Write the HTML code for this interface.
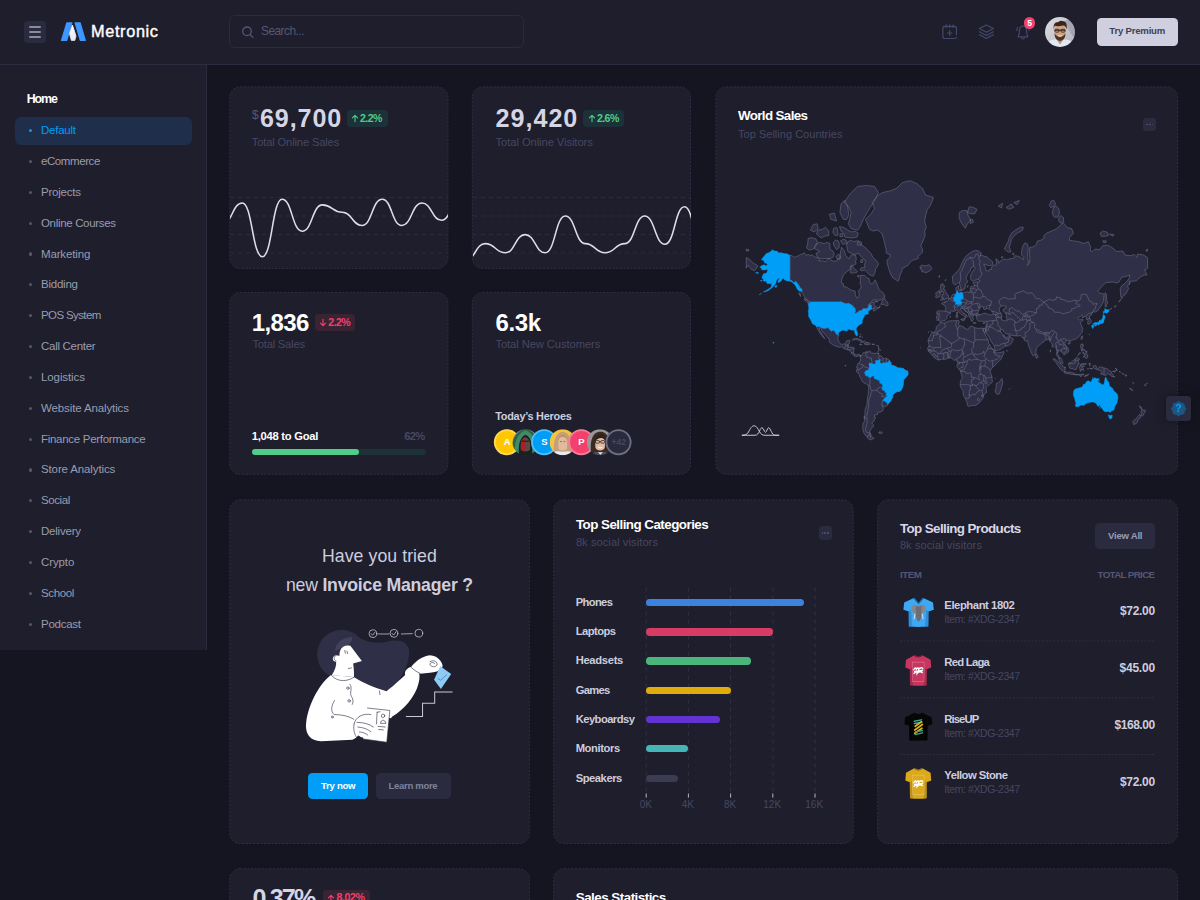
<!DOCTYPE html>
<html lang="en"><head><meta charset="utf-8"><title>Metronic Dashboard</title>
<style>
*{box-sizing:border-box;margin:0;padding:0}
html,body{width:1200px;height:900px;overflow:hidden;background:#151521;font-family:"Liberation Sans", sans-serif;}
body{position:relative}
div,svg{position:absolute}
svg{overflow:visible}
.t{white-space:nowrap}
.card{background:#1e1e2d;border:1px dashed #2f2f46;border-radius:10px}
b{font-weight:700}
</style></head>
<body>
<div style="left:0px;top:65px;width:207px;height:585px;background:#1e1e2d;border-right:1px solid #2b2b40;"></div>
<div style="left:0px;top:0px;width:1200px;height:65px;background:#1e1e2d;border-bottom:1px solid #2b2b40;"></div>
<div style="left:24px;top:21px;width:22px;height:22px;background:#2b2b40;border-radius:4px;"></div>
<div style="left:28.75px;top:26px;width:12.5px;height:1.5px;background:#8b8b9e;border-radius:1px;"></div>
<div style="left:28.75px;top:31px;width:12.5px;height:1.5px;background:#8b8b9e;border-radius:1px;"></div>
<div style="left:28.75px;top:36px;width:12.5px;height:1.5px;background:#8b8b9e;border-radius:1px;"></div>
<svg style="left:0;top:0" width="120" height="64" viewBox="0 0 120 64">
<defs><linearGradient id="lg" x1="0" y1="0" x2="0" y2="1"><stop offset="0" stop-color="#ffffff"/><stop offset="1" stop-color="#e9e9ee"/></linearGradient></defs>
<g stroke-linejoin="round" stroke-width="1.2">
<path d="M61.5 40.4 L66.8 22.9 L71.9 22.9 L66.8 40.4 Z" fill="#3e97ff" stroke="#3e97ff"/>
<path d="M75.1 22.9 L80.2 22.9 L85.3 40.4 L80.3 40.4 Z" fill="#3e97ff" stroke="#3e97ff"/>
<path d="M72.45 25 L69.5 33.5 L71.3 40.4 L74.8 40.4 L76 36 Z" fill="url(#lg)" stroke="url(#lg)" stroke-width="0.8"/>
</g></svg>
<div class="t" style="top:21.16px;font-size:16.3px;line-height:21.19px;color:#fff;letter-spacing:0.652px;left:91px;-webkit-text-stroke:0.4px #fff;">Metronic</div>
<div style="left:229px;top:15px;width:295px;height:33px;border-radius:6px;border:1px solid #2b2b40;"></div>
<svg style="left:240px;top:24px" width="16" height="16" viewBox="0 0 16 16"><circle cx="7" cy="7.3" r="4.3" fill="none" stroke="#565674" stroke-width="1.3"/><path d="M10.2 10.6 L13 13.4" stroke="#565674" stroke-width="1.3" stroke-linecap="round"/></svg>
<div class="t" style="top:23.89px;font-size:11.9px;line-height:15.47px;color:#565674;letter-spacing:-0.512px;left:261px;">Search...</div>
<svg style="left:941px;top:23px" width="18" height="18" viewBox="0 0 18 18" fill="none" stroke="#454a6d" stroke-width="1.15" stroke-linecap="round" stroke-linejoin="round">
<path d="M15.4 11.5 V5.4 Q15.4 3.3 13.3 3.3 H4 Q1.9 3.3 1.9 5.4 V13.4 Q1.9 15.5 4 15.5 H13.3 Q15.4 15.5 15.4 14"/>
<path d="M5.2 1.9 V4.4 M8.65 1.9 V4.4 M12.1 1.9 V4.4"/><path d="M8.65 7.6 V12.4 M6.3 10 H11"/></svg>
<svg style="left:977px;top:23px" width="18" height="18" viewBox="0 0 18 18" fill="none" stroke="#454a6d" stroke-width="1.15" stroke-linecap="round" stroke-linejoin="round">
<path d="M9.4 2 L16.3 5.6 L9.4 9.3 L2.4 5.6 Z"/><path d="M2.4 8.7 L9.4 12.4 L16.3 8.7"/><path d="M2.4 11.7 L9.4 15.4 L16.3 11.7"/></svg>
<svg style="left:1014px;top:23px" width="18" height="18" viewBox="0 0 18 18" fill="none" stroke="#454a6d" stroke-width="1.15" stroke-linecap="round" stroke-linejoin="round">
<path d="M4.4 12.9 Q5.4 11.2 5.4 8.2 Q5.4 3 9 3 Q12.6 3 12.6 8.2 Q12.6 11.2 13.6 12.9 Q14.2 13.9 13 13.9 H5 Q3.8 13.9 4.4 12.9 Z"/>
<path d="M7.6 15.4 Q9 16.4 10.4 15.4"/><path d="M3.6 4.2 Q2.6 5.8 2.9 7.6 M14.4 4.2 Q15.4 5.8 15.1 7.6"/></svg>
<div style="left:1023.9px;top:17.4px;width:11.4px;height:11.4px;background:#f1416c;border-radius:6px;"></div>
<div class="t" style="top:18.03px;font-size:8.6px;line-height:11.18px;color:#fff;font-weight:700;left:829.60px;width:400px;text-align:center;">5</div>
<svg style="left:1045px;top:17px" width="30" height="30" viewBox="0 0 30 30"><defs><clipPath id="avc"><circle cx="15" cy="15" r="15"/></clipPath>
<linearGradient id="avbg" x1="0" y1="0" x2="1" y2="1"><stop offset="0" stop-color="#dcdce2"/><stop offset="1" stop-color="#b4b4be"/></linearGradient>
<filter id="avb" x="-10%" y="-10%" width="120%" height="120%"><feGaussianBlur stdDeviation="0.45"/></filter></defs>
<g clip-path="url(#avc)"><g filter="url(#avb)"><rect width="30" height="30" fill="url(#avbg)"/>
<path d="M19 4 L30 22 L30 0 Z" fill="#a6a6b2"/><path d="M21 9 L28 19" stroke="#8e8e9a" stroke-width="0.5"/>
<path d="M0 30 Q3 22 10 22.5 L20 22.5 Q27 22 30 30 Z" fill="#e3e8f4"/>
<path d="M10.5 21 L15 27.5 L19.5 21 Z" fill="#c39878"/>
<ellipse cx="15" cy="14" rx="5.9" ry="7.4" fill="#d0a282"/>
<path d="M9.4 16.5 Q10 23.5 15 24 Q20 23.5 20.6 16.5 Q18 20 15 20 Q12 20 9.4 16.5 Z" fill="#4b3527"/>
<path d="M8.7 12.6 Q7.6 4.6 13.6 5 Q15 3 19.4 4.4 Q22.6 6 21.5 12.6 Q20.8 8.8 18 8.6 Q12.6 9.6 9.8 8.8 Q9 10.4 8.7 12.6 Z" fill="#3b281c"/>
<path d="M9.6 13.2 H20.4" stroke="#2b2320" stroke-width="1"/><rect x="10" y="12.3" width="4" height="2.8" rx="0.9" fill="none" stroke="#2b2320" stroke-width="0.8"/><rect x="16" y="12.3" width="4" height="2.8" rx="0.9" fill="none" stroke="#2b2320" stroke-width="0.8"/>
<path d="M12.8 18.6 Q15 20 17.2 18.6" stroke="#f2f2f2" stroke-width="0.8" fill="none"/>
</g></g></svg>
<div style="left:1096.5px;top:17.7px;width:81.5px;height:28.3px;background:#cfcfe0;border-radius:4.5px;"></div>
<div class="t" style="top:25.18px;font-size:9.6px;line-height:12.48px;color:#3f4254;font-weight:700;letter-spacing:-0.212px;left:1109.3px;">Try Premium</div>
<div class="t" style="top:91.34px;font-size:12.4px;line-height:16.12px;color:#fff;font-weight:700;letter-spacing:-1.046px;left:26.7px;">Home</div>
<div style="left:15px;top:117px;width:177px;height:27.5px;background:#1f2e4a;border-radius:6px;"></div>
<div style="left:28.5px;top:129.1px;width:3.2px;height:3.2px;background:#009ef7;border-radius:2px;"></div>
<div class="t" style="top:123.24px;font-size:11.5px;line-height:14.95px;color:#009ef7;letter-spacing:-0.24px;left:41px;">Default</div>
<div style="left:28.5px;top:159.94px;width:3.2px;height:3.2px;background:#565674;border-radius:2px;"></div>
<div class="t" style="top:154.08px;font-size:11.5px;line-height:14.95px;color:#9a9cae;letter-spacing:-0.418px;left:41px;">eCommerce</div>
<div style="left:28.5px;top:190.78px;width:3.2px;height:3.2px;background:#565674;border-radius:2px;"></div>
<div class="t" style="top:184.92px;font-size:11.5px;line-height:14.95px;color:#9a9cae;letter-spacing:-0.221px;left:41px;">Projects</div>
<div style="left:28.5px;top:221.61999999999998px;width:3.2px;height:3.2px;background:#565674;border-radius:2px;"></div>
<div class="t" style="top:215.76px;font-size:11.5px;line-height:14.95px;color:#9a9cae;letter-spacing:-0.328px;left:41px;">Online Courses</div>
<div style="left:28.5px;top:252.46px;width:3.2px;height:3.2px;background:#565674;border-radius:2px;"></div>
<div class="t" style="top:246.60px;font-size:11.5px;line-height:14.95px;color:#9a9cae;letter-spacing:-0.15px;left:41px;">Marketing</div>
<div style="left:28.5px;top:283.29999999999995px;width:3.2px;height:3.2px;background:#565674;border-radius:2px;"></div>
<div class="t" style="top:277.44px;font-size:11.5px;line-height:14.95px;color:#9a9cae;letter-spacing:-0.229px;left:41px;">Bidding</div>
<div style="left:28.5px;top:314.14px;width:3.2px;height:3.2px;background:#565674;border-radius:2px;"></div>
<div class="t" style="top:308.28px;font-size:11.5px;line-height:14.95px;color:#9a9cae;letter-spacing:-0.614px;left:41px;">POS System</div>
<div style="left:28.5px;top:344.97999999999996px;width:3.2px;height:3.2px;background:#565674;border-radius:2px;"></div>
<div class="t" style="top:339.12px;font-size:11.5px;line-height:14.95px;color:#9a9cae;letter-spacing:-0.283px;left:41px;">Call Center</div>
<div style="left:28.5px;top:375.81999999999994px;width:3.2px;height:3.2px;background:#565674;border-radius:2px;"></div>
<div class="t" style="top:369.96px;font-size:11.5px;line-height:14.95px;color:#9a9cae;letter-spacing:-0.094px;left:41px;">Logistics</div>
<div style="left:28.5px;top:406.65999999999997px;width:3.2px;height:3.2px;background:#565674;border-radius:2px;"></div>
<div class="t" style="top:400.80px;font-size:11.5px;line-height:14.95px;color:#9a9cae;letter-spacing:-0.12px;left:41px;">Website Analytics</div>
<div style="left:28.5px;top:437.49999999999994px;width:3.2px;height:3.2px;background:#565674;border-radius:2px;"></div>
<div class="t" style="top:431.64px;font-size:11.5px;line-height:14.95px;color:#9a9cae;letter-spacing:-0.292px;left:41px;">Finance Performance</div>
<div style="left:28.5px;top:468.34px;width:3.2px;height:3.2px;background:#565674;border-radius:2px;"></div>
<div class="t" style="top:462.48px;font-size:11.5px;line-height:14.95px;color:#9a9cae;letter-spacing:-0.127px;left:41px;">Store Analytics</div>
<div style="left:28.5px;top:499.17999999999995px;width:3.2px;height:3.2px;background:#565674;border-radius:2px;"></div>
<div class="t" style="top:493.32px;font-size:11.5px;line-height:14.95px;color:#9a9cae;letter-spacing:-0.406px;left:41px;">Social</div>
<div style="left:28.5px;top:530.02px;width:3.2px;height:3.2px;background:#565674;border-radius:2px;"></div>
<div class="t" style="top:524.16px;font-size:11.5px;line-height:14.95px;color:#9a9cae;letter-spacing:-0.221px;left:41px;">Delivery</div>
<div style="left:28.5px;top:560.86px;width:3.2px;height:3.2px;background:#565674;border-radius:2px;"></div>
<div class="t" style="top:555.00px;font-size:11.5px;line-height:14.95px;color:#9a9cae;letter-spacing:-0.115px;left:41px;">Crypto</div>
<div style="left:28.5px;top:591.6999999999999px;width:3.2px;height:3.2px;background:#565674;border-radius:2px;"></div>
<div class="t" style="top:585.84px;font-size:11.5px;line-height:14.95px;color:#9a9cae;letter-spacing:-0.374px;left:41px;">School</div>
<div style="left:28.5px;top:622.54px;width:3.2px;height:3.2px;background:#565674;border-radius:2px;"></div>
<div class="t" style="top:616.68px;font-size:11.5px;line-height:14.95px;color:#9a9cae;letter-spacing:-0.26px;left:41px;">Podcast</div>
<svg style="left:0;top:0" width="1200" height="900"><rect x="229.75" y="86.90" width="218.15" height="181.50" rx="10.3" fill="#1e1e2d" stroke="#2e2f46" stroke-width="1" stroke-dasharray="2.1 1.55"/></svg>
<svg style="left:0;top:0" width="1200" height="900"><rect x="472.30" y="86.90" width="218.15" height="181.50" rx="10.3" fill="#1e1e2d" stroke="#2e2f46" stroke-width="1" stroke-dasharray="2.1 1.55"/></svg>
<svg style="left:0;top:0" width="1200" height="900"><rect x="715.90" y="86.90" width="461.70" height="387.40" rx="10.3" fill="#1e1e2d" stroke="#2e2f46" stroke-width="1" stroke-dasharray="2.1 1.55"/></svg>
<svg style="left:0;top:0" width="1200" height="900"><rect x="229.75" y="292.60" width="218.15" height="181.70" rx="10.3" fill="#1e1e2d" stroke="#2e2f46" stroke-width="1" stroke-dasharray="2.1 1.55"/></svg>
<svg style="left:0;top:0" width="1200" height="900"><rect x="472.30" y="292.60" width="218.15" height="181.70" rx="10.3" fill="#1e1e2d" stroke="#2e2f46" stroke-width="1" stroke-dasharray="2.1 1.55"/></svg>
<svg style="left:0;top:0" width="1200" height="900"><rect x="229.75" y="499.90" width="299.55" height="343.60" rx="10.3" fill="#1e1e2d" stroke="#2e2f46" stroke-width="1" stroke-dasharray="2.1 1.55"/></svg>
<svg style="left:0;top:0" width="1200" height="900"><rect x="553.70" y="499.90" width="299.55" height="343.60" rx="10.3" fill="#1e1e2d" stroke="#2e2f46" stroke-width="1" stroke-dasharray="2.1 1.55"/></svg>
<svg style="left:0;top:0" width="1200" height="900"><rect x="877.65" y="499.90" width="299.95" height="343.60" rx="10.3" fill="#1e1e2d" stroke="#2e2f46" stroke-width="1" stroke-dasharray="2.1 1.55"/></svg>
<svg style="left:0;top:0" width="1200" height="900"><rect x="229.75" y="868.75" width="299.55" height="59.00" rx="10.3" fill="#1e1e2d" stroke="#2e2f46" stroke-width="1" stroke-dasharray="2.1 1.55"/></svg>
<svg style="left:0;top:0" width="1200" height="900"><rect x="553.70" y="868.75" width="623.90" height="59.00" rx="10.3" fill="#1e1e2d" stroke="#2e2f46" stroke-width="1" stroke-dasharray="2.1 1.55"/></svg>
<div class="t" style="top:107.04px;font-size:12.5px;line-height:16.25px;color:#565674;left:251.75px;">$</div>
<div class="t" style="top:101.99px;font-size:25.1px;line-height:32.63px;color:#d5d5e5;font-weight:700;letter-spacing:0.887px;left:260px;">69,700</div>
<div style="left:346.5px;top:110px;width:41px;height:16.8px;background:#1c3238;border-radius:4px;"></div>
<svg style="left:351px;top:114.2px" width="8" height="9" viewBox="0 0 8 9" fill="none" stroke="#50cd89" stroke-width="1.1" stroke-linecap="round" stroke-linejoin="round"><path d="M4 7.6 V1.4 M1.4 3.9 L4 1.3 L6.6 3.9"/></svg>
<div class="t" style="top:111.54px;font-size:10.6px;line-height:13.78px;color:#50cd89;font-weight:700;letter-spacing:-0.552px;left:360px;">2.2%</div>
<div class="t" style="top:135.34px;font-size:11.2px;line-height:14.56px;color:#474761;letter-spacing:-0.157px;left:251.75px;">Total Online Sales</div>
<svg style="left:0;top:0" width="1200" height="900" viewBox="0 0 1200 900"><defs><clipPath id="c230"><rect x="230" y="180" width="218" height="88" rx="0"/></clipPath></defs><g clip-path="url(#c230)"><path d="M230 197.5 H448" stroke="#2b2b40" stroke-width="1" stroke-dasharray="4 4"/><path d="M230 216 H448" stroke="#2b2b40" stroke-width="1" stroke-dasharray="4 4"/><path d="M230 234.5 H448" stroke="#2b2b40" stroke-width="1" stroke-dasharray="4 4"/><path d="M230 253 H448" stroke="#2b2b40" stroke-width="1" stroke-dasharray="4 4"/><path d="M222.3 224.0 C232.3 224.0 232.3 203.0 242.3 203.0 C252.3 203.0 252.3 256.7 262.4 256.7 C272.2 256.7 272.2 199.2 282.1 199.2 C292.1 199.2 292.1 231.2 302.2 231.2 C312.3 231.2 312.3 204.9 322.4 204.9 C332.4 204.9 332.4 212.3 342.3 212.3 C352.1 212.3 352.1 225.4 362.0 225.4 C372.1 225.4 372.1 199.2 382.2 199.2 C391.9 199.2 391.9 225.4 401.7 225.4 C411.8 225.4 411.8 203.0 421.9 203.0 C431.8 203.0 431.8 220.3 441.6 220.3 C451.6 220.3 451.6 194.5 461.6 194.5" fill="none" stroke="#dcdde6" stroke-width="1.55"/></g></svg>
<div class="t" style="top:101.99px;font-size:25.1px;line-height:32.63px;color:#d5d5e5;font-weight:700;letter-spacing:0.987px;left:495.6px;">29,420</div>
<div style="left:583.4px;top:110px;width:41px;height:16.8px;background:#1c3238;border-radius:4px;"></div>
<svg style="left:587.9px;top:114.2px" width="8" height="9" viewBox="0 0 8 9" fill="none" stroke="#50cd89" stroke-width="1.1" stroke-linecap="round" stroke-linejoin="round"><path d="M4 7.6 V1.4 M1.4 3.9 L4 1.3 L6.6 3.9"/></svg>
<div class="t" style="top:111.54px;font-size:10.6px;line-height:13.78px;color:#50cd89;font-weight:700;letter-spacing:-0.552px;left:596.9px;">2.6%</div>
<div class="t" style="top:135.34px;font-size:11.2px;line-height:14.56px;color:#474761;letter-spacing:-0.074px;left:495.6px;">Total Online Visitors</div>
<svg style="left:0;top:0" width="1200" height="900" viewBox="0 0 1200 900"><defs><clipPath id="c473"><rect x="473" y="180" width="218" height="88" rx="0"/></clipPath></defs><g clip-path="url(#c473)"><path d="M473 197.5 H691" stroke="#2b2b40" stroke-width="1" stroke-dasharray="4 4"/><path d="M473 216 H691" stroke="#2b2b40" stroke-width="1" stroke-dasharray="4 4"/><path d="M473 234.5 H691" stroke="#2b2b40" stroke-width="1" stroke-dasharray="4 4"/><path d="M473 253 H691" stroke="#2b2b40" stroke-width="1" stroke-dasharray="4 4"/><path d="M465.3 260.4 C475.3 260.4 475.3 243.6 485.3 243.6 C495.4 243.6 495.4 252.8 505.4 252.8 C515.2 252.8 515.2 234.6 525.1 234.6 C535.2 234.6 535.2 252.8 545.2 252.8 C555.3 252.8 555.3 216.0 565.4 216.0 C575.3 216.0 575.3 243.6 585.3 243.6 C595.1 243.6 595.1 252.8 605.0 252.8 C614.9 252.8 614.9 243.6 624.8 243.6 C634.8 243.6 634.8 216.0 644.7 216.0 C654.8 216.0 654.8 244.2 664.9 244.2 C674.8 244.2 674.8 206.8 684.6 206.8 C694.6 206.8 694.6 258.6 704.6 258.6" fill="none" stroke="#dcdde6" stroke-width="1.55"/></g></svg>
<div class="t" style="top:306.58px;font-size:24px;line-height:31.2px;color:#fff;font-weight:700;letter-spacing:-0.641px;left:251.8px;">1,836</div>
<div style="left:314.7px;top:313.9px;width:40.6px;height:17px;background:#3a2434;border-radius:4px;"></div>
<svg style="left:319.4px;top:318.2px" width="8" height="9" viewBox="0 0 8 9" fill="none" stroke="#f1416c" stroke-width="1.1" stroke-linecap="round" stroke-linejoin="round"><path d="M4 1.4 V7.6 M1.4 5.1 L4 7.7 L6.6 5.1"/></svg>
<div class="t" style="top:315.54px;font-size:10.6px;line-height:13.78px;color:#f1416c;font-weight:700;letter-spacing:-0.552px;left:328.3px;">2.2%</div>
<div class="t" style="top:336.64px;font-size:11.2px;line-height:14.56px;color:#474761;letter-spacing:-0.213px;left:252.4px;">Total Sales</div>
<div class="t" style="top:429.24px;font-size:11.2px;line-height:14.56px;color:#fff;font-weight:700;letter-spacing:-0.262px;left:251.8px;">1,048 to Goal</div>
<div class="t" style="top:429.24px;font-size:11.2px;line-height:14.56px;color:#474761;font-weight:700;letter-spacing:-0.653px;right:775.35px;">62%</div>
<div style="left:251.5px;top:449px;width:174.4px;height:6.4px;background:#1c3238;border-radius:3.2px;"></div>
<div style="left:251.5px;top:449px;width:107.9px;height:6.4px;background:#50cd89;border-radius:3.2px;"></div>
<div class="t" style="top:306.58px;font-size:24px;line-height:31.2px;color:#fff;font-weight:700;letter-spacing:-0.306px;left:495.4px;">6.3k</div>
<div class="t" style="top:336.64px;font-size:11.2px;line-height:14.56px;color:#474761;letter-spacing:-0.079px;left:495.4px;">Total New Customers</div>
<div class="t" style="top:408.94px;font-size:10.9px;line-height:14.17px;color:#cdcdde;font-weight:700;letter-spacing:-0.254px;left:495.2px;">Today’s Heroes</div>
<div class="t" style="top:107.45px;font-size:13.4px;line-height:17.42px;color:#fff;font-weight:700;letter-spacing:-0.641px;left:738px;">World Sales</div>
<div class="t" style="top:127.44px;font-size:11px;line-height:14.3px;color:#474761;letter-spacing:0.022px;left:738px;">Top Selling Countries</div>
<div style="left:1143.3px;top:117.9px;width:13.2px;height:13.2px;background:#2b2b40;border-radius:3px;"></div>
<div style="left:1146.3px;top:123.8px;width:1.5px;height:1.5px;background:#565674;border-radius:1px;"></div>
<div style="left:1149.0px;top:123.8px;width:1.5px;height:1.5px;background:#565674;border-radius:1px;"></div>
<div style="left:1151.7px;top:123.8px;width:1.5px;height:1.5px;background:#565674;border-radius:1px;"></div>
<div class="t" style="top:545.06px;font-size:17.7px;line-height:23.01px;color:#cdcdde;letter-spacing:0.066px;left:179.43px;width:400px;text-align:center;">Have you tried</div>
<div class="t" id="inv2" style="left:179.4px;width:400px;text-align:center;top:574.47px;font-size:17.7px;line-height:23px;color:#cdcdde;letter-spacing:-0.23px">new <b>Invoice Manager ?</b></div>
<div style="left:307.7px;top:773px;width:60.6px;height:26.2px;background:#009ef7;border-radius:4.5px;"></div>
<div class="t" style="top:780.23px;font-size:9.6px;line-height:12.48px;color:#fff;font-weight:700;letter-spacing:-0.292px;left:321px;">Try now</div>
<div style="left:376px;top:773px;width:74.8px;height:26.2px;background:#2b2b40;border-radius:4.5px;"></div>
<div class="t" style="top:780.23px;font-size:9.6px;line-height:12.48px;color:#7e8299;font-weight:700;letter-spacing:-0.341px;left:388.5px;">Learn more</div>
<div class="t" style="top:515.75px;font-size:13.4px;line-height:17.42px;color:#fff;font-weight:700;letter-spacing:-0.538px;left:575.9px;">Top Selling Categories</div>
<div class="t" style="top:534.94px;font-size:11px;line-height:14.3px;color:#474761;letter-spacing:0.113px;left:575.9px;">8k social visitors</div>
<div style="left:818.5px;top:526px;width:13.5px;height:13.5px;background:#2b2b40;border-radius:3px;"></div>
<div style="left:821.65px;top:532.05px;width:1.5px;height:1.5px;background:#565674;border-radius:1px;"></div>
<div style="left:824.35px;top:532.05px;width:1.5px;height:1.5px;background:#565674;border-radius:1px;"></div>
<div style="left:827.05px;top:532.05px;width:1.5px;height:1.5px;background:#565674;border-radius:1px;"></div>
<svg style="left:0;top:0" width="1200" height="900"><path d="M646.2 587.5 V793" stroke="#313147" stroke-width="1" stroke-dasharray="4 4"/><path d="M646.2 793.5 V797.6" stroke="#b5b5c3" stroke-width="1"/><path d="M688.4 587.5 V793" stroke="#313147" stroke-width="1" stroke-dasharray="4 4"/><path d="M688.4 793.5 V797.6" stroke="#b5b5c3" stroke-width="1"/><path d="M730.6 587.5 V793" stroke="#313147" stroke-width="1" stroke-dasharray="4 4"/><path d="M730.6 793.5 V797.6" stroke="#b5b5c3" stroke-width="1"/><path d="M772.8 587.5 V793" stroke="#313147" stroke-width="1" stroke-dasharray="4 4"/><path d="M772.8 793.5 V797.6" stroke="#b5b5c3" stroke-width="1"/><path d="M815.0 587.5 V793" stroke="#313147" stroke-width="1" stroke-dasharray="4 4"/><path d="M815.0 793.5 V797.6" stroke="#b5b5c3" stroke-width="1"/></svg>
<div class="t" style="top:594.84px;font-size:11.2px;line-height:14.56px;color:#cdcdde;font-weight:700;letter-spacing:-0.644px;left:575.7px;">Phones</div>
<div style="left:646.2px;top:598.8px;width:157.79999999999995px;height:7.4px;background:#3c83e0;border-radius:3.7px;"></div>
<div class="t" style="top:624.19px;font-size:11.2px;line-height:14.56px;color:#cdcdde;font-weight:700;letter-spacing:-0.536px;left:575.7px;">Laptops</div>
<div style="left:646.2px;top:628.15px;width:126.5px;height:7.4px;background:#d63c65;border-radius:3.7px;"></div>
<div class="t" style="top:653.44px;font-size:11.2px;line-height:14.56px;color:#cdcdde;font-weight:700;letter-spacing:-0.307px;left:575.7px;">Headsets</div>
<div style="left:646.2px;top:657.4px;width:105.19999999999993px;height:7.4px;background:#4bb67c;border-radius:3.7px;"></div>
<div class="t" style="top:682.64px;font-size:11.2px;line-height:14.56px;color:#cdcdde;font-weight:700;letter-spacing:-0.682px;left:575.7px;">Games</div>
<div style="left:646.2px;top:686.5999999999999px;width:84.39999999999998px;height:7.4px;background:#e0ac0c;border-radius:3.7px;"></div>
<div class="t" style="top:711.89px;font-size:11.2px;line-height:14.56px;color:#cdcdde;font-weight:700;letter-spacing:-0.539px;left:575.7px;">Keyboardsy</div>
<div style="left:646.2px;top:715.8499999999999px;width:73.5px;height:7.4px;background:#6233d0;border-radius:3.7px;"></div>
<div class="t" style="top:741.14px;font-size:11.2px;line-height:14.56px;color:#cdcdde;font-weight:700;letter-spacing:-0.391px;left:575.7px;">Monitors</div>
<div style="left:646.2px;top:745.0999999999999px;width:42.09999999999991px;height:7.4px;background:#45b5b6;border-radius:3.7px;"></div>
<div class="t" style="top:770.54px;font-size:11.2px;line-height:14.56px;color:#cdcdde;font-weight:700;letter-spacing:-0.452px;left:575.7px;">Speakers</div>
<div style="left:646.2px;top:774.5px;width:31.699999999999932px;height:7.4px;background:#3b3b52;border-radius:3.7px;"></div>
<div class="t" style="top:798.33px;font-size:10px;line-height:13.0px;color:#474761;left:445.80px;width:400px;text-align:center;">0K</div>
<div class="t" style="top:798.33px;font-size:10px;line-height:13.0px;color:#474761;left:487.80px;width:400px;text-align:center;">4K</div>
<div class="t" style="top:798.33px;font-size:10px;line-height:13.0px;color:#474761;left:530.10px;width:400px;text-align:center;">8K</div>
<div class="t" style="top:798.33px;font-size:10px;line-height:13.0px;color:#474761;left:572.20px;width:400px;text-align:center;">12K</div>
<div class="t" style="top:798.33px;font-size:10px;line-height:13.0px;color:#474761;left:614.20px;width:400px;text-align:center;">16K</div>
<div class="t" style="top:520.15px;font-size:13.4px;line-height:17.42px;color:#d8d8e6;font-weight:700;letter-spacing:-0.606px;left:899.9px;">Top Selling Products</div>
<div class="t" style="top:537.54px;font-size:11px;line-height:14.3px;color:#474761;letter-spacing:0.113px;left:899.9px;">8k social visitors</div>
<div style="left:1095.2px;top:523.4px;width:59.9px;height:25.3px;background:#2b2b40;border-radius:4.5px;"></div>
<div class="t" style="top:529.93px;font-size:9.6px;line-height:12.48px;color:#9a9cae;font-weight:700;letter-spacing:-0.267px;left:1108.1px;">View All</div>
<div class="t" style="top:569.23px;font-size:9.8px;line-height:12.74px;color:#565674;font-weight:700;letter-spacing:-0.469px;left:899.9px;">ITEM</div>
<div class="t" style="top:569.23px;font-size:9.8px;line-height:12.74px;color:#565674;font-weight:700;letter-spacing:-0.663px;right:45.56px;">TOTAL PRICE</div>
<div class="t" style="top:598.14px;font-size:11.3px;line-height:14.69px;color:#cdcdde;font-weight:700;letter-spacing:-0.449px;left:944.3px;">Elephant 1802</div>
<div class="t" style="top:613.04px;font-size:10.4px;line-height:13.52px;color:#474761;letter-spacing:-0.369px;left:944.3px;">Item: #XDG-2347</div>
<div class="t" style="top:604.44px;font-size:12px;line-height:15.6px;color:#cdcdde;font-weight:700;letter-spacing:-0.321px;right:45.22px;">$72.00</div>
<svg style="left:0;top:0" width="1200" height="900"><path d="M899.9 641.0 H1155.1" stroke="#2d2e45" stroke-width="1" stroke-dasharray="2.1 1.55"/></svg>
<div class="t" style="top:654.89px;font-size:11.3px;line-height:14.69px;color:#cdcdde;font-weight:700;letter-spacing:-0.751px;left:944.3px;">Red Laga</div>
<div class="t" style="top:669.79px;font-size:10.4px;line-height:13.52px;color:#474761;letter-spacing:-0.369px;left:944.3px;">Item: #XDG-2347</div>
<div class="t" style="top:661.19px;font-size:12px;line-height:15.6px;color:#cdcdde;font-weight:700;letter-spacing:-0.221px;right:45.12px;">$45.00</div>
<svg style="left:0;top:0" width="1200" height="900"><path d="M899.9 697.8 H1155.1" stroke="#2d2e45" stroke-width="1" stroke-dasharray="2.1 1.55"/></svg>
<div class="t" style="top:711.64px;font-size:11.3px;line-height:14.69px;color:#cdcdde;font-weight:700;letter-spacing:-0.933px;left:944.3px;">RiseUP</div>
<div class="t" style="top:726.54px;font-size:10.4px;line-height:13.52px;color:#474761;letter-spacing:-0.369px;left:944.3px;">Item: #XDG-2347</div>
<div class="t" style="top:717.94px;font-size:12px;line-height:15.6px;color:#cdcdde;font-weight:700;letter-spacing:-0.465px;right:45.37px;">$168.00</div>
<svg style="left:0;top:0" width="1200" height="900"><path d="M899.9 754.5 H1155.1" stroke="#2d2e45" stroke-width="1" stroke-dasharray="2.1 1.55"/></svg>
<div class="t" style="top:768.39px;font-size:11.3px;line-height:14.69px;color:#cdcdde;font-weight:700;letter-spacing:-0.544px;left:944.3px;">Yellow Stone</div>
<div class="t" style="top:783.29px;font-size:10.4px;line-height:13.52px;color:#474761;letter-spacing:-0.369px;left:944.3px;">Item: #XDG-2347</div>
<div class="t" style="top:774.69px;font-size:12px;line-height:15.6px;color:#cdcdde;font-weight:700;letter-spacing:-0.321px;right:45.22px;">$72.00</div>
<div class="t" style="top:881.74px;font-size:25.1px;line-height:32.63px;color:#d5d5e5;font-weight:700;letter-spacing:-1.852px;left:252.5px;">0.37%</div>
<div style="left:322.75px;top:889.5px;width:46.75px;height:17px;background:#3a2434;border-radius:4px;"></div>
<svg style="left:327.2px;top:893.8px" width="8" height="9" viewBox="0 0 8 9" fill="none" stroke="#f1416c" stroke-width="1.1" stroke-linecap="round" stroke-linejoin="round"><path d="M4 7.6 V1.4 M1.4 3.9 L4 1.3 L6.6 3.9"/></svg>
<div class="t" style="top:891.14px;font-size:10.6px;line-height:13.78px;color:#f1416c;font-weight:700;letter-spacing:-0.387px;left:336.5px;">8.02%</div>
<div class="t" style="top:889.25px;font-size:13.4px;line-height:17.42px;color:#fff;font-weight:700;letter-spacing:-0.518px;left:575.75px;">Sales Statistics</div>
<div style="left:1165.7px;top:395.7px;width:25.3px;height:25.3px;background:#2b2b40;border-radius:4px;box-shadow:0 0 12px rgba(0,0,0,.35);"></div>
<svg style="left:1165.7px;top:395.7px" width="25.3" height="25.3" viewBox="0 0 25.3 25.3"><polygon points="12.65,5.35 14.98,7.01 17.81,7.49 18.29,10.32 19.95,12.65 18.29,14.98 17.81,17.81 14.98,18.29 12.65,19.95 10.32,18.29 7.49,17.81 7.01,14.98 5.35,12.65 7.01,10.32 7.49,7.49 10.32,7.01" fill="#1d5583" stroke="#1d5583" stroke-width="1" stroke-linejoin="round"/></svg>
<div class="t" style="top:402.04px;font-size:10.5px;line-height:13.65px;color:#009ef7;font-weight:700;left:978.40px;width:400px;text-align:center;">?</div>
<svg style="left:0;top:0" width="1200" height="900" viewBox="0 0 1200 900"><defs><clipPath id="hc"><circle cx="0" cy="0" r="13"/></clipPath><filter id="hb" x="-20%" y="-20%" width="140%" height="140%"><feGaussianBlur stdDeviation="0.55"/></filter></defs><g transform="translate(506.9 442.2)"><circle r="13.0" fill="#ffc700"/><circle cx="0" cy="0" r="12.1" fill="none" stroke="rgba(255,255,255,.32)" stroke-width="1.8"/></g><g transform="translate(525.5 442.2)"><g clip-path="url(#hc)"><g filter="url(#hb)"><rect x="-13" y="-13" width="26" height="26" fill="#8d8f92"/>
<path d="M-14 13 C-15 0 -11 -11 0 -13.5 C11 -11 15 0 14 13 Z" fill="#2c644b"/>
<path d="M-10.5 13 C-12 2 -9 -9 0 -12 C9 -9 12 2 10.5 13 Z" fill="#3f8a66"/>
<path d="M-6.5 13 C-7.5 4 -6 -5 0 -7.5 C6 -5 7.5 4 6.5 13 Z" fill="#16211d"/>
<path d="M-4.6 7 C-5.2 1 -4.2 -4 0 -5 C4.2 -4 5.2 1 4.6 7 C3 10 -3 10 -4.6 7 Z" fill="#5b4a45"/>
<path d="M-4.6 7 C-5.2 1 -4.2 -4 -0.5 -5 L-0.5 9.2 C-2.5 9.2 -3.8 8.4 -4.6 7 Z" fill="#a3202f"/>
<path d="M-3.5 -1 H3.5" stroke="#1b1b1b" stroke-width="1"/></g></g></g><g transform="translate(544.1 442.2)"><circle r="13.0" fill="#009ef7"/><circle cx="0" cy="0" r="12.1" fill="none" stroke="rgba(255,255,255,.32)" stroke-width="1.8"/></g><g transform="translate(562.7 442.2)"><g clip-path="url(#hc)"><g filter="url(#hb)"><rect x="-13" y="-13" width="26" height="26" fill="#f3c443"/>
<path d="M-8.5 13 C-10 2 -8 -10 0 -10.5 C8 -10 10 2 8.5 13 Z" fill="#c4a079"/>
<path d="M-4.2 6 C-5 0 -4 -6 0 -6.5 C4 -6 5 0 4.2 6 C3 9 -3 9 -4.2 6 Z" fill="#e2bb9e"/>
<path d="M-5.5 -2 C-4 -6.5 -1 -7.5 0 -7.5 C1 -7.5 4 -6.5 5.5 -2 C3 -5 1 -5.5 0 -5.5 C-1 -5.5 -3 -5 -5.5 -2 Z" fill="#b8946d"/>
<path d="M-13 13 C-9 8.5 -5 8.6 0 9.6 C5 8.6 9 8.5 13 13 Z" fill="#e9eaf0"/>
<path d="M-2.6 -0.6 H-0.8 M0.8 -0.6 H2.6" stroke="#6b4b3a" stroke-width="0.7"/></g></g></g><g transform="translate(581.3 442.2)"><circle r="13.0" fill="#f1416c"/><circle cx="0" cy="0" r="12.1" fill="none" stroke="rgba(255,255,255,.32)" stroke-width="1.8"/></g><g transform="translate(599.9 442.2)"><g clip-path="url(#hc)"><g filter="url(#hb)"><rect x="-13" y="-13" width="26" height="26" fill="#9b9699"/>
<path d="M-8.5 13 C-10.5 0 -8 -10.5 0.5 -10.5 C9 -10.5 10.5 0 8.5 13 Z" fill="#3a2922"/>
<path d="M-4.4 5.5 C-5.2 0 -4 -6 0.5 -6.3 C5 -6 5.6 0 4.8 5.5 C3.5 9.2 -3 9.2 -4.4 5.5 Z" fill="#e4bda4"/>
<path d="M-5.2 -1 C-4.5 -6.5 -1 -8 1 -8 C4 -8 6 -5 6 -1 C4 -4.5 0 -6 -5.2 -1 Z" fill="#2e201a"/>
<path d="M-8 13 C-6 9 -3 9.3 0.5 10 C4 9.3 7 9 9 13 Z" fill="#4a4d5c"/>
<path d="M-2 10 L0.5 12.5 L3 10 Z" fill="#e9e9ef"/>
<rect x="-4.3" y="-1.6" width="3.8" height="2.6" rx="0.8" fill="none" stroke="#1f1a1a" stroke-width="0.75"/><rect x="1" y="-1.6" width="3.8" height="2.6" rx="0.8" fill="none" stroke="#1f1a1a" stroke-width="0.75"/><path d="M-0.5 -0.6 H1" stroke="#1f1a1a" stroke-width="0.7"/>
<path d="M-1.6 5 Q0.4 6.4 2.4 5" stroke="#fff" stroke-width="0.9" fill="none"/></g></g></g><g transform="translate(618.5 442.2)"><circle r="13.0" fill="#2a2a3f"/><circle r="12.1" fill="none" stroke="#6f6f84" stroke-width="1.8"/></g></svg>
<div class="t" style="top:436.13px;font-size:9.5px;line-height:12.35px;color:#fff;font-weight:700;left:307.10px;width:400px;text-align:center;">A</div>
<div class="t" style="top:436.13px;font-size:9.5px;line-height:12.35px;color:#fff;font-weight:700;left:344.40px;width:400px;text-align:center;">S</div>
<div class="t" style="top:436.13px;font-size:9.5px;line-height:12.35px;color:#fff;font-weight:700;left:381.50px;width:400px;text-align:center;">P</div>
<div class="t" style="top:436.63px;font-size:8.6px;line-height:11.18px;color:#474761;font-weight:700;left:418.80px;width:400px;text-align:center;">+42</div>
<svg style="left:290px;top:615px" width="180" height="140" viewBox="0 0 1157 900">
<g fill="#2f3047"><circle cx="332" cy="253" r="158"/>
<path d="M395 122 C455 150 520 196 620 172 C705 150 772 172 766 252 C760 332 700 440 640 487 C600 500 540 470 470 440 L300 380 Z"/>
</g>
<path d="M292 232 C286 190 322 152 398 140 C404 168 386 192 346 202 Z" fill="#414259"/>
<g fill="#ffffff">
<path d="M318 262 C316 215 345 186 388 198 L462 296 L406 312 C409 340 413 368 411 398 L268 388 C290 352 300 322 296 300 C272 300 266 268 292 258 Z"/>
<path d="M264 385 C200 430 120 560 104 690 C94 762 130 812 200 812 L400 802 C432 792 452 762 470 702 L640 662 C700 632 780 562 816 472 C832 430 836 400 830 370 L776 335 C750 345 735 360 740 386 C700 422 650 470 620 490 C560 470 470 440 410 398 Z"/>
<path d="M776 338 C800 302 850 262 900 258 C952 262 976 300 980 322 C984 348 960 366 900 371 L836 378 Z"/>
<path d="M498 598 L642 614 L622 818 L470 797 Z"/><path d="M640 622 L668 628 L650 664 L636 660 Z"/>
<ellipse cx="472" cy="712" rx="64" ry="78" transform="rotate(-12 472 712)"/>
</g>
<g fill="none" stroke="#2f3047" stroke-width="4" stroke-linecap="round" stroke-linejoin="round">
<path d="M264 385 C290 420 350 440 412 400"/>
<path d="M385 445 C405 470 380 500 395 525 C410 545 405 565 400 575"/>
<circle cx="372" cy="470" r="8"/><circle cx="380" cy="552" r="8"/>
<path d="M286 550 C262 590 262 620 284 640 C330 640 380 650 410 670"/><circle cx="272" cy="656" r="6"/>
<path d="M778 336 C795 352 815 366 836 376"/><path d="M575 488 L578 512"/>
<path d="M498 598 L642 614 L622 818 L470 797"/><path d="M560 625 L556 700 M560 625 L580 622"/>
<circle cx="598" cy="648" r="11"/><path d="M582 694 C584 670 612 670 616 694 Z"/><path d="M566 716 L612 720 M570 736 L600 739"/>
<path d="M412 700 C420 655 470 630 520 640 M430 690 C470 690 510 700 536 720 M436 720 C470 722 500 734 520 750 M446 752 C466 752 486 760 500 772 M412 700 C405 740 415 770 430 790"/>
<path d="M900 300 C925 285 950 300 945 322 C935 338 905 335 900 318 C900 305 920 300 930 312"/>
<path d="M352 228 L356 246 M366 232 L370 248 M375 345 L395 340"/><path d="M292 262 C280 268 280 290 296 296"/>
</g>
<path d="M966 330 L1036 380 L970 476 L926 416 Z" fill="#8ecbf4"/>
<path d="M952 408 L968 420 L1008 384" fill="none" stroke="#4a8fc4" stroke-width="6" stroke-linecap="round" stroke-linejoin="round"/>
<path d="M745 653 H852 V567 H930 V495 H1045" fill="none" stroke="#c9c9d4" stroke-width="6.5" stroke-linejoin="miter"/>
<g fill="none" stroke="#d9d9e3" stroke-width="4.5" stroke-linecap="round" stroke-linejoin="round">
<circle cx="533" cy="120" r="25"/><circle cx="668" cy="118" r="25"/><circle cx="828" cy="117" r="25"/>
<path d="M566 122 H636 M716 122 L786 120"/><path d="M522 120 L531 130 L546 110 M656 118 L666 129 L682 107"/>
</g></svg>
<svg style="left:902.9px;top:597.3px" width="31.2" height="30.8" viewBox="0 0 32 32" preserveAspectRatio="none">
<path d="M10.6 1.4 L16 7.5 21.4 1.4 L30.8 5.6 L31.6 13.2 L26.2 15 L26 30.6 Q16 31.6 6 30.6 L5.8 15 L0.4 13.2 L1.2 5.6 Z" fill="#3ea8f4"/>
<path d="M5.8 15 L6 30.6 Q8 30.9 9.5 31 L8.2 13 Z M26.2 15 L26 30.6 Q24 30.9 22.5 31 L23.8 13 Z" fill="#1f78c4" opacity=".55"/>
<path d="M10.6 1.4 L16 7.5 21.4 1.4 L20.2 0.9 L16 6 11.8 0.9 Z" fill="#1f78c4"/>
<g fill="#85868c"><ellipse cx="12.3" cy="12.3" rx="3.6" ry="4.3"/><ellipse cx="19.7" cy="12.3" rx="3.6" ry="4.3"/>
<path d="M13 9.5 H19 L18.6 20 Q18.2 25 16 25.5 Q13.8 25 13.4 20 Z" fill="#6d6e75"/><path d="M12.2 17.5 L11.4 23 M19.8 17.5 L20.6 23" stroke="#e8e8ee" stroke-width="0.9" fill="none"/></g></svg>
<svg style="left:905.1px;top:653.6px" width="26.6" height="32.6" viewBox="0 0 32 32" preserveAspectRatio="none">
<path d="M10.6 1.4 Q16 5.2 21.4 1.4 L30.8 5.6 L31.6 13.2 L26.2 15 L26 30.6 Q16 31.6 6 30.6 L5.8 15 L0.4 13.2 L1.2 5.6 Z" fill="#c8365f"/>
<path d="M5.8 15 L6 30.6 Q8 30.9 9.5 31 L8.2 13 Z M26.2 15 L26 30.6 Q24 30.9 22.5 31 L23.8 13 Z" fill="#8e1f41" opacity=".55"/>
<path d="M10.6 1.4 Q16 5.2 21.4 1.4 L20.2 0.9 Q16 3.8 11.8 0.9 Z" fill="#8e1f41"/>
<rect x="9" y="8" width="14" height="19" fill="none" stroke="rgba(255,255,255,.35)" stroke-width="0.6"/>
<path d="M10.5 15.5 C12 13 14 13.5 13.2 15.5 C15 13.5 17 13.2 16.6 15 C18.5 13 21 13 21.5 14.5 M10.8 19.2 C13 17 15 17.5 14.6 19 C16.5 17.2 19 17 20.8 18.2 M11.5 17.3 L21 16.3" fill="none" stroke="#fff" stroke-width="1.5" stroke-linecap="round"/></svg>
<svg style="left:904.2px;top:711.6px" width="28.7" height="29.6" viewBox="0 0 32 32" preserveAspectRatio="none">
<path d="M10.6 1.4 Q16 5.2 21.4 1.4 L30.8 5.6 L31.6 13.2 L26.2 15 L26 30.6 Q16 31.6 6 30.6 L5.8 15 L0.4 13.2 L1.2 5.6 Z" fill="#060606"/>
<path d="M5.8 15 L6 30.6 Q8 30.9 9.5 31 L8.2 13 Z M26.2 15 L26 30.6 Q24 30.9 22.5 31 L23.8 13 Z" fill="#000000" opacity=".55"/>
<path d="M10.6 1.4 Q16 5.2 21.4 1.4 L20.2 0.9 Q16 3.8 11.8 0.9 Z" fill="#000000"/>
<g stroke-linecap="round" fill="none"><path d="M11.5 10 L19.5 8.5 M11.5 12.5 L20 11" stroke="#3fa68b" stroke-width="1.6"/>
<path d="M12.5 15.5 L19.5 10.5 M12 19.5 L20.5 13.5 M12 23 L20 17.5" stroke="#e0b020" stroke-width="1.9"/>
<path d="M12.5 24.5 L20.5 22.5 M13 21.5 L20.5 20" stroke="#3fa68b" stroke-width="1.5"/></g></svg>
<svg style="left:905.1px;top:767px" width="26.6" height="32.6" viewBox="0 0 32 32" preserveAspectRatio="none">
<path d="M10.6 1.4 Q16 5.2 21.4 1.4 L30.8 5.6 L31.6 13.2 L26.2 15 L26 30.6 Q16 31.6 6 30.6 L5.8 15 L0.4 13.2 L1.2 5.6 Z" fill="#dba91c"/>
<path d="M5.8 15 L6 30.6 Q8 30.9 9.5 31 L8.2 13 Z M26.2 15 L26 30.6 Q24 30.9 22.5 31 L23.8 13 Z" fill="#a87c10" opacity=".55"/>
<path d="M10.6 1.4 Q16 5.2 21.4 1.4 L20.2 0.9 Q16 3.8 11.8 0.9 Z" fill="#a87c10"/>
<rect x="9" y="8" width="14" height="19" fill="none" stroke="rgba(255,255,255,.35)" stroke-width="0.6"/>
<path d="M10.5 15.5 C12 13 14 13.5 13.2 15.5 C15 13.5 17 13.2 16.6 15 C18.5 13 21 13 21.5 14.5 M10.8 19.2 C13 17 15 17.5 14.6 19 C16.5 17.2 19 17 20.8 18.2 M11.5 17.3 L21 16.3" fill="none" stroke="#fff" stroke-width="1.5" stroke-linecap="round"/></svg>
<svg style="left:0;top:0" width="1200" height="900" viewBox="0 0 1200 900">
<path d="M982.9 328.3 L981.4 328.0 L980.2 328.3 L977.5 328.3 L975.0 327.8 L972.8 326.6 L971.1 326.1 L969.2 327.3 L969.2 328.9 L967.0 329.3 L964.2 328.0 L963.8 326.9 L961.6 326.1 L959.7 325.7 L958.9 325.0 L958.3 324.2 L958.9 323.3 L959.2 320.8 L958.3 320.2 L956.5 320.7 L954.7 320.5 L952.5 320.8 L950.2 320.8 L948.0 321.4 L945.8 322.3 L944.4 323.1 L943.6 322.9 L941.9 323.0 L940.9 322.1 L940.3 322.2 L939.3 324.6 L937.4 325.6 L936.5 326.6 L936.0 328.0 L936.2 329.4 L935.5 330.8 L934.1 332.2 L932.4 332.8 L930.7 334.7 L930.2 336.4 L929.1 337.8 L928.0 340.6 L928.5 342.8 L929.0 344.6 L928.5 346.9 L927.4 348.4 L928.2 350.1 L928.3 351.2 L929.6 352.4 L930.4 353.2 L931.6 354.4 L932.2 355.5 L933.5 356.8 L934.2 357.4 L936.3 359.1 L938.5 360.1 L941.3 359.3 L943.6 359.3 L944.7 359.6 L946.9 358.7 L948.2 358.2 L949.9 357.8 L951.7 358.0 L953.0 359.4 L953.6 360.2 L954.7 360.1 L956.4 359.9 L956.8 360.6 L957.7 361.1 L957.8 362.4 L957.5 363.9 L957.3 365.0 L956.7 365.8 L957.5 367.5 L958.6 368.9 L960.1 370.4 L960.6 371.7 L961.6 374.9 L962.3 377.0 L961.9 378.9 L960.8 380.2 L960.5 381.9 L960.1 384.0 L960.1 385.4 L961.4 388.4 L963.1 390.8 L963.1 392.6 L963.6 395.7 L965.3 398.3 L966.2 400.7 L967.2 402.7 L967.4 405.4 L968.6 406.3 L969.2 406.4 L971.4 405.5 L973.6 405.4 L975.5 405.4 L977.5 404.3 L978.7 403.4 L980.3 401.4 L981.4 400.0 L983.1 398.2 L983.6 396.3 L983.6 395.0 L984.2 394.1 L986.5 392.6 L986.5 390.2 L985.9 388.4 L985.8 387.5 L987.6 386.0 L989.3 384.5 L991.5 383.1 L992.4 381.3 L992.0 379.1 L992.0 376.8 L991.3 375.1 L990.7 373.4 L990.7 372.6 L990.1 371.7 L990.6 370.2 L991.1 369.5 L992.0 367.8 L993.3 366.9 L994.8 365.2 L996.5 363.6 L997.5 362.8 L999.8 360.5 L1001.3 358.5 L1002.4 356.0 L1003.5 353.8 L1004.1 351.7 L1003.2 351.6 L1001.5 352.3 L999.3 352.5 L997.1 353.2 L995.2 352.1 L994.9 350.7 L993.7 349.8 L992.4 348.3 L991.1 347.6 L990.4 345.8 L989.8 344.6 L988.5 343.4 L988.4 341.6 L988.1 339.8 L986.7 337.5 L985.4 335.0 L984.6 333.1 L983.6 331.4 L983.2 330.0Z M1001.8 378.5 L1003.0 382.3 L1002.4 383.7 L1002.1 385.4 L1001.0 389.0 L999.8 392.6 L999.3 393.8 L997.3 394.4 L995.9 393.2 L995.2 390.8 L995.9 388.4 L996.3 386.6 L995.9 384.8 L996.5 383.3 L998.5 382.7 L999.8 381.3 L1001.0 379.9Z M928.2 331.9 L928.8 331.8 L928.5 332.4Z M931.0 331.7 L931.5 331.4 L931.3 332.3Z M920.5 347.8 L920.9 347.8 L920.7 348.2Z M995.2 378.0 L995.4 378.0 L995.3 378.4Z M1008.5 388.8 L1009.1 389.0 L1008.8 389.3Z M1010.9 387.9 L1011.2 388.0 L1011.0 388.2Z M956.4 360.9 L956.8 361.0 L956.5 361.3Z M1081.2 344.0 L1083.1 344.0 L1083.2 346.3 L1082.3 348.1 L1082.9 349.2 L1085.1 350.4 L1084.9 350.6 L1083.4 349.8 L1081.8 349.6 L1081.0 348.3 L1080.6 346.7Z M1082.9 357.2 L1084.5 355.4 L1086.8 354.0 L1087.9 356.0 L1087.5 357.7 L1086.8 358.6 L1085.1 357.7 L1084.5 356.6Z M1085.4 350.9 L1086.8 350.9 L1087.0 352.7 L1085.7 353.6 L1086.0 352.3Z M1082.9 351.7 L1084.2 352.7 L1084.4 354.7 L1083.4 354.0 L1082.9 353.2Z M1077.6 355.5 L1080.1 352.3 L1080.3 353.2 L1078.4 355.1Z M1081.1 349.9 L1082.2 350.0 L1082.0 351.2Z M1053.1 358.7 L1055.6 359.2 L1058.3 362.2 L1060.0 363.1 L1062.3 365.0 L1063.4 366.7 L1065.0 368.3 L1064.8 371.5 L1063.4 371.4 L1060.9 369.5 L1058.9 366.7 L1057.2 364.4 L1056.1 362.2 L1054.4 360.9Z M1064.1 372.6 L1065.6 371.7 L1067.8 372.3 L1070.4 372.2 L1072.5 372.7 L1074.5 373.6 L1074.5 374.7 L1071.7 374.4 L1068.4 373.7 L1065.6 373.3Z M1068.4 363.3 L1069.0 362.8 L1070.6 363.1 L1071.2 361.9 L1072.8 361.1 L1074.5 359.6 L1076.2 357.7 L1077.3 357.2 L1079.7 359.2 L1078.4 360.2 L1078.2 362.2 L1079.5 363.9 L1077.9 364.4 L1077.9 366.1 L1076.7 367.8 L1076.2 369.5 L1074.5 369.5 L1072.8 368.7 L1071.2 368.7 L1069.7 368.1 L1069.5 366.4 L1068.4 365.0Z M1080.4 364.4 L1081.5 363.6 L1084.0 363.9 L1086.2 363.2 L1085.7 364.4 L1082.3 364.4 L1081.0 365.0 L1081.2 366.1 L1083.8 365.9 L1084.3 366.3 L1082.3 367.2 L1083.4 368.9 L1084.0 370.0 L1082.9 370.4 L1081.8 368.9 L1081.2 370.0 L1081.0 371.3 L1080.1 371.1 L1080.1 368.9 L1079.3 368.0 L1080.3 365.6Z M1084.5 376.5 L1086.2 375.1 L1088.8 374.4 L1087.3 375.6 L1085.1 376.5Z M1074.6 374.1 L1075.8 374.1 L1077.0 374.4 L1076.7 375.0 L1075.1 374.9Z M1077.1 374.4 L1079.5 374.3 L1079.5 374.9 L1077.3 375.1Z M1080.4 374.4 L1084.0 374.2 L1083.8 374.9 L1080.6 375.0Z M1079.5 375.6 L1081.5 376.0 L1080.6 376.5Z M1089.0 363.0 L1090.3 363.3 L1090.3 364.7 L1089.6 365.9 L1089.2 364.1Z M1089.6 368.3 L1092.7 368.7 L1090.7 368.9Z M1087.3 368.6 L1088.7 368.7 L1088.0 369.2Z M1064.3 366.9 L1065.6 367.5 L1065.6 368.3 L1064.8 367.5Z M1092.9 365.9 L1094.6 365.4 L1096.2 365.9 L1096.5 367.8 L1097.4 368.7 L1099.6 367.0 L1100.7 366.8 L1104.0 367.9 L1107.9 369.2 L1109.6 370.8 L1111.3 371.7 L1111.6 372.8 L1112.4 374.5 L1114.1 376.4 L1115.0 376.9 L1111.8 376.4 L1110.2 374.9 L1107.9 373.6 L1106.8 374.5 L1105.7 375.3 L1104.0 375.2 L1102.4 374.0 L1100.7 374.3 L1101.3 372.8 L1101.6 371.7 L1100.1 370.6 L1097.9 369.9 L1095.7 369.2 L1094.0 368.2 L1092.9 366.7Z M1112.4 371.3 L1114.6 371.1 L1116.5 369.7 L1116.3 370.6 L1114.6 371.9Z M1115.0 368.0 L1116.9 369.2 L1117.4 370.2 L1116.6 369.5Z M1119.3 371.1 L1120.5 372.3 L1120.0 372.6Z M1121.9 373.2 L1124.1 374.2 L1123.5 374.5Z M1125.0 375.4 L1126.1 376.0 L1125.2 376.1Z M1126.0 374.5 L1126.7 375.6 L1126.3 375.5Z M1132.6 381.9 L1133.2 382.6 L1132.8 382.7Z M1133.4 383.3 L1133.9 383.8 L1133.6 383.9Z M1129.7 388.0 L1131.3 389.0 L1133.0 390.5 L1132.2 390.5 L1130.2 389.0Z M1144.5 384.8 L1145.9 384.9 L1145.6 385.6 L1144.6 385.5Z M1146.2 383.7 L1147.4 383.4 L1146.7 384.0Z M1139.4 405.9 L1141.2 407.1 L1141.9 408.8 L1143.1 410.2 L1145.6 410.3 L1144.7 412.6 L1144.2 413.3 L1143.3 415.2 L1142.2 416.1 L1141.6 415.7 L1141.9 413.7 L1140.6 412.7 L1141.6 410.9 L1141.6 409.5 L1139.7 406.7Z M1139.4 414.5 L1141.0 415.2 L1140.8 416.7 L1139.5 419.0 L1137.8 420.2 L1137.3 422.6 L1135.3 423.9 L1133.6 423.2 L1132.5 422.6 L1134.1 420.2 L1136.9 418.2 L1138.0 416.4Z M1133.7 424.2 L1134.4 424.4 L1134.0 424.9Z M789.8 255.2 L792.0 255.7 L794.2 257.3 L796.4 256.4 L798.7 255.7 L800.9 254.1 L803.1 254.1 L804.2 252.5 L806.5 255.7 L808.1 254.1 L809.8 255.7 L812.0 254.8 L815.4 257.3 L818.2 257.9 L819.8 259.7 L818.7 260.9 L823.2 260.9 L825.4 261.8 L826.5 260.3 L828.8 258.2 L831.0 260.3 L833.8 261.2 L837.1 260.9 L837.7 258.8 L839.9 259.7 L839.9 255.7 L841.5 247.2 L844.4 250.8 L845.5 255.1 L847.2 257.3 L848.8 258.8 L851.1 255.1 L852.2 254.8 L855.5 255.1 L856.3 258.8 L855.5 261.8 L856.1 263.8 L853.8 265.2 L852.2 265.2 L850.5 266.0 L851.1 268.7 L849.4 270.0 L847.2 271.3 L846.0 272.6 L843.8 274.6 L842.7 276.7 L841.6 279.7 L841.4 283.0 L843.3 283.7 L843.8 286.8 L846.0 286.8 L848.8 288.7 L851.6 290.3 L855.0 290.9 L855.5 295.0 L856.6 297.8 L858.3 297.8 L858.9 296.0 L859.2 293.2 L858.3 291.2 L860.5 288.3 L861.4 286.2 L860.0 283.7 L860.5 280.8 L860.0 275.5 L862.2 275.3 L865.0 275.5 L867.2 277.9 L869.1 278.6 L869.4 282.0 L871.1 284.1 L873.3 283.0 L875.0 279.9 L876.7 283.0 L877.8 286.2 L878.9 289.3 L880.6 291.2 L882.8 292.6 L884.5 295.0 L884.8 296.9 L883.4 297.8 L881.1 299.9 L878.4 300.2 L875.6 299.9 L872.8 300.1 L871.7 301.6 L870.0 303.3 L868.3 305.1 L867.8 305.8 L869.4 304.3 L871.7 302.5 L874.5 301.8 L875.2 302.6 L873.9 303.8 L874.5 305.5 L875.0 306.8 L876.7 307.1 L878.4 307.6 L880.0 306.6 L880.0 305.5 L879.5 307.4 L878.9 308.2 L876.7 309.2 L875.0 310.6 L873.3 310.9 L873.3 309.5 L875.0 307.9 L873.3 308.4 L872.2 308.8 L871.8 308.4 L871.3 307.6 L871.3 305.5 L870.8 305.0 L869.8 304.8 L868.9 306.0 L868.6 306.8 L868.0 308.0 L867.2 308.7 L863.3 308.7 L861.9 309.9 L861.3 310.9 L858.6 311.0 L858.9 311.3 L858.9 312.1 L856.6 313.0 L855.0 313.7 L854.3 313.0 L855.0 312.4 L855.3 310.9 L855.0 308.2 L853.8 307.4 L853.8 307.1 L852.7 306.3 L852.4 305.6 L850.5 304.5 L848.4 303.3 L847.2 303.8 L844.9 303.7 L843.3 302.8 L841.5 302.6 L840.9 301.5 L840.8 302.1 L810.0 302.1 L809.5 301.6 L807.8 300.4 L805.4 299.0 L804.5 296.9 L803.1 294.1 L801.7 292.2 L802.0 290.9 L802.0 289.3 L800.0 287.9 L798.7 285.2 L797.0 283.0 L795.9 281.5 L793.7 283.0 L792.0 280.8 L789.8 280.2Z M809.4 303.1 L807.0 302.3 L803.9 299.4 L805.4 299.0 L807.6 300.4 L809.3 302.3Z M800.6 296.5 L798.7 293.2 L800.1 293.0Z M880.8 304.3 L882.3 301.3 L883.4 299.0 L884.7 297.8 L885.0 299.5 L886.7 301.3 L887.8 303.0 L888.2 304.6 L887.3 306.0 L885.6 305.6 L884.5 304.6 L882.8 304.5Z M875.1 300.8 L877.8 301.5 L878.0 302.0 L875.8 301.6Z M873.3 276.2 L875.0 272.6 L875.6 268.7 L877.8 266.0 L878.4 263.3 L876.1 260.3 L872.8 257.3 L871.1 253.5 L868.3 250.8 L866.1 248.3 L863.3 246.2 L860.0 243.5 L857.2 240.8 L853.3 241.6 L851.1 240.4 L847.7 241.6 L846.6 245.4 L847.7 250.8 L848.8 252.5 L851.1 253.1 L852.7 254.1 L855.5 254.4 L858.9 253.1 L860.0 255.7 L862.2 257.3 L864.4 259.4 L865.5 261.8 L864.4 264.7 L865.0 267.4 L861.1 267.9 L860.0 270.0 L862.2 270.8 L864.4 270.0 L866.7 271.8 L868.9 274.3 L871.1 275.5Z M857.7 230.1 L860.5 226.2 L863.3 219.4 L865.5 215.4 L871.1 206.0 L875.6 198.9 L878.4 192.6 L874.5 186.4 L866.7 185.5 L857.7 186.4 L851.1 192.6 L846.6 198.9 L844.4 202.6 L848.8 207.4 L851.1 212.5 L849.9 218.3 L848.3 223.7 L851.1 228.6 L854.4 229.6Z M843.3 219.4 L839.9 212.5 L841.0 204.0 L844.4 200.4 L847.7 206.0 L848.8 215.4 L846.6 219.4Z M858.3 233.2 L857.2 237.1 L851.1 238.0 L844.9 237.1 L843.8 233.2 L841.0 231.0 L839.4 226.7 L843.3 227.2 L847.2 229.6 L851.1 231.9 L855.5 231.4Z M846.6 243.5 L842.7 244.3 L840.5 240.8 L843.3 239.2 L846.0 240.0Z M838.8 248.0 L836.6 249.7 L833.8 245.4 L833.2 242.8 L835.4 240.0 L838.2 240.8 L839.4 244.3Z M829.9 258.5 L826.5 258.5 L821.0 258.8 L817.6 257.3 L815.9 253.5 L819.8 251.4 L815.9 249.4 L814.3 248.7 L815.4 244.7 L819.3 242.4 L824.3 243.5 L827.1 242.4 L829.9 243.5 L829.9 249.0 L832.7 250.8 L834.3 254.1 L832.7 257.6Z M809.3 250.1 L812.6 249.4 L815.4 246.5 L817.6 242.4 L815.9 238.8 L811.5 237.6 L808.1 238.4 L807.6 244.3 L806.5 248.0Z M828.8 235.4 L826.5 235.9 L824.3 236.3 L821.0 238.0 L819.3 236.3 L816.5 234.1 L817.6 230.1 L822.1 229.6 L825.4 227.2 L828.8 231.0Z M837.7 235.4 L834.9 235.4 L832.7 232.3 L833.8 228.2 L837.1 227.7 L838.0 231.9Z M818.2 228.6 L814.3 231.9 L810.4 230.1 L813.2 224.7 L817.1 223.7Z M836.6 221.0 L831.0 219.4 L829.3 214.3 L834.3 213.1Z M849.9 272.3 L851.6 273.3 L854.4 272.6 L856.6 272.6 L857.5 271.3 L856.1 270.0 L853.3 267.9 L852.7 266.0 L851.1 266.0 L849.9 267.9 L851.1 270.0Z M840.5 258.2 L837.1 258.8 L836.0 256.7 L838.2 254.1 L840.5 255.7Z M860.5 262.4 L862.8 262.4 L862.8 259.4 L861.1 259.4Z M857.2 244.7 L861.1 245.4 L861.6 242.4 L858.3 240.8Z M839.9 236.7 L842.7 236.7 L842.7 233.7 L839.9 233.7Z M857.7 277.0 L858.9 277.0 L858.9 275.5 L857.7 275.5Z M897.9 281.3 L895.6 279.5 L892.8 277.9 L891.2 275.0 L889.5 271.3 L888.4 267.4 L887.3 263.8 L886.9 260.3 L890.1 257.3 L890.1 254.8 L886.2 253.1 L886.2 249.7 L885.0 245.4 L883.9 239.6 L881.7 233.2 L877.8 230.1 L872.8 231.0 L869.4 229.1 L867.8 225.2 L865.5 219.4 L870.6 214.3 L874.5 208.7 L872.2 202.6 L876.7 196.6 L882.3 192.6 L890.1 190.9 L896.7 188.3 L902.3 182.7 L910.1 180.7 L916.8 183.6 L922.4 188.3 L925.7 195.0 L933.5 197.4 L930.2 206.0 L927.4 209.3 L925.7 215.4 L924.6 221.0 L926.3 227.2 L924.6 231.0 L925.2 235.4 L924.1 238.4 L922.4 242.4 L920.7 246.2 L922.4 249.0 L922.4 252.5 L920.7 254.1 L917.9 256.4 L918.5 258.2 L915.7 259.4 L912.4 260.3 L910.1 262.4 L907.9 265.5 L905.1 266.9 L902.3 268.7 L901.8 271.3 L900.6 273.8 L899.5 276.7 L899.0 279.7Z M919.6 267.4 L921.8 264.9 L924.1 266.0 L926.8 265.5 L929.1 264.7 L930.7 266.6 L931.9 268.7 L930.2 270.6 L927.4 272.1 L925.7 272.8 L923.5 271.8 L921.6 271.8 L922.4 270.0 L920.2 269.0 L921.8 267.9Z M816.4 326.6 L817.6 329.3 L818.7 330.9 L819.8 332.4 L819.3 333.1 L821.0 334.3 L822.1 336.2 L823.2 337.4 L824.3 338.6 L824.9 338.4 L823.7 336.8 L822.6 335.0 L821.2 332.7 L819.8 330.5 L819.0 328.0 L821.0 328.3 L821.5 330.2 L823.2 332.4 L824.9 334.3 L826.5 336.2 L828.2 338.0 L829.3 339.8 L829.3 341.6 L830.4 343.1 L832.7 344.6 L834.9 345.8 L837.1 346.6 L839.4 347.3 L841.6 346.7 L843.3 347.5 L844.1 348.7 L845.5 349.3 L847.2 349.8 L848.8 350.1 L849.4 350.4 L849.9 350.9 L851.1 352.1 L851.4 352.9 L851.6 353.9 L852.7 354.4 L853.8 355.3 L854.4 355.8 L856.1 356.6 L857.2 356.8 L857.7 356.0 L858.3 355.0 L859.4 355.7 L860.0 356.6 L860.1 356.9 L860.6 355.3 L858.9 354.4 L857.2 354.9 L855.5 354.7 L854.4 353.8 L853.6 352.7 L853.6 350.9 L854.1 349.2 L854.2 348.1 L852.7 347.2 L851.1 347.0 L848.8 347.3 L847.9 347.0 L848.5 346.3 L848.6 344.6 L849.4 342.8 L849.9 341.0 L849.9 340.4 L848.3 340.4 L846.3 341.0 L845.8 342.8 L844.9 344.0 L843.3 344.1 L841.6 344.4 L840.1 343.6 L839.4 342.5 L838.5 341.0 L837.9 339.2 L838.0 337.4 L838.6 335.0 L836.6 334.3 L836.0 333.1 L834.9 331.6 L833.8 330.2 L832.4 330.3 L831.9 331.2 L830.4 330.3 L828.2 327.6 L826.3 327.6 L826.3 328.2 L823.2 328.2 L819.0 326.6Z M852.2 340.0 L853.8 338.8 L855.5 338.4 L857.7 338.6 L860.0 339.5 L862.2 340.7 L864.2 342.0 L863.3 342.3 L860.5 342.3 L861.1 341.4 L859.4 340.4 L857.2 339.8 L855.5 339.4 L854.4 339.8 L853.3 340.1Z M864.0 344.1 L865.5 342.3 L867.0 342.5 L868.9 342.6 L870.6 343.9 L868.9 344.4 L867.2 344.9 L866.1 344.4Z M859.6 344.1 L861.9 344.5 L861.1 344.8 L859.7 344.6Z M872.0 344.0 L873.8 344.1 L873.6 344.6 L872.0 344.6Z M877.9 352.9 L879.0 352.9 L878.9 353.7 L877.9 353.7Z M859.7 335.9 L860.5 336.2 L860.3 337.4 L859.6 336.9Z M860.6 355.3 L861.3 356.0 L862.2 354.6 L862.8 353.2 L863.5 352.5 L865.5 352.2 L866.7 351.3 L867.4 351.7 L867.0 352.9 L867.8 352.7 L868.9 351.3 L870.0 352.1 L871.1 353.1 L873.3 353.1 L875.0 353.6 L876.7 353.0 L877.8 353.1 L878.9 354.4 L880.0 355.5 L881.1 356.0 L882.8 358.0 L883.4 358.4 L885.6 358.4 L886.7 358.6 L888.4 359.4 L889.3 360.2 L890.1 361.7 L891.2 363.0 L891.2 364.4 L890.6 365.0 L892.8 365.6 L894.0 365.8 L896.2 366.7 L897.5 367.8 L899.5 368.0 L901.2 368.2 L902.9 368.3 L904.5 369.5 L905.7 370.5 L907.6 370.9 L908.0 372.8 L908.1 374.0 L907.6 375.4 L906.2 376.9 L905.1 378.3 L904.0 379.6 L903.4 381.3 L903.4 383.1 L903.2 385.2 L902.5 387.2 L901.8 389.0 L900.6 390.8 L899.5 391.4 L897.3 391.6 L895.1 392.7 L893.4 394.2 L892.7 395.7 L892.7 397.6 L891.5 399.2 L890.4 401.4 L888.9 403.0 L887.4 405.0 L886.2 406.3 L884.5 406.6 L882.8 405.9 L881.8 405.4 L883.0 407.1 L883.4 408.5 L882.6 410.9 L880.6 412.0 L877.8 412.3 L877.5 414.5 L874.5 415.2 L874.5 417.5 L875.9 417.8 L874.5 419.0 L873.9 421.3 L871.7 422.9 L873.6 424.9 L873.3 426.2 L871.4 428.7 L870.0 430.5 L870.0 432.6 L870.7 433.9 L868.9 434.2 L867.8 436.5 L865.5 435.5 L863.9 433.1 L862.8 429.6 L862.8 426.2 L862.8 424.0 L864.4 421.3 L865.0 419.0 L864.4 416.7 L864.8 415.2 L865.0 413.0 L865.0 410.2 L865.9 407.4 L867.0 404.7 L867.2 401.4 L867.3 398.8 L867.9 396.3 L868.3 393.8 L868.4 391.4 L868.7 389.0 L868.6 385.9 L867.2 384.6 L865.5 383.7 L863.3 382.5 L861.9 380.8 L861.1 378.7 L860.0 376.8 L858.9 374.3 L857.7 372.3 L856.4 371.7 L856.3 370.0 L857.4 368.8 L857.7 367.8 L856.6 367.5 L856.8 366.1 L857.5 365.0 L857.7 363.9 L858.9 363.3 L859.1 362.2 L860.5 361.1 L860.7 360.0 L860.5 358.6 L860.6 357.4 L860.1 356.9Z M870.6 434.4 L868.3 435.9 L866.7 437.2 L868.9 439.1 L871.1 439.9 L872.8 439.0 L874.2 438.2 L871.7 436.8Z M878.9 431.9 L881.1 431.9 L882.5 432.4 L881.1 433.7 L878.9 433.1Z M864.2 416.4 L865.0 416.7 L864.9 418.8 L864.0 418.5Z M844.9 365.3 L845.7 365.3 L845.7 366.1 L844.9 366.1Z M876.6 345.6 L877.2 345.6 L876.9 345.1Z M877.7 345.9 L878.3 345.8 L878.0 345.3Z M878.1 346.9 L878.6 346.9 L878.4 346.3Z M878.3 347.8 L878.9 347.8 L878.6 347.3Z M878.6 348.8 L879.2 348.7 L878.9 348.2Z M878.7 349.6 L879.3 349.5 L879.0 349.0Z M878.4 350.4 L879.0 350.3 L878.7 349.8Z M877.9 351.6 L878.4 351.6 L878.1 351.1Z M880.3 350.4 L880.9 350.3 L880.6 349.8Z M874.4 344.5 L875.0 344.4 L874.7 343.9Z M869.8 351.5 L870.4 351.5 L870.1 350.9Z M861.9 337.4 L862.5 337.4 L862.2 336.8Z M864.6 341.3 L865.2 341.2 L864.9 340.7Z M860.4 334.5 L860.9 334.4 L860.6 333.8Z M958.6 282.6 L956.9 283.7 L954.7 285.2 L953.0 283.0 L952.5 279.7 L952.5 276.2 L954.7 273.8 L956.9 272.1 L959.2 269.3 L960.8 266.0 L962.5 261.8 L964.2 258.8 L966.4 255.7 L969.2 253.5 L972.5 251.4 L975.7 250.4 L978.1 250.8 L981.4 253.1 L980.3 255.1 L983.7 256.0 L987.0 257.0 L989.8 259.4 L992.6 261.8 L992.6 264.7 L989.8 266.0 L985.9 264.7 L983.7 264.1 L985.4 267.4 L985.9 270.3 L988.7 271.3 L989.3 269.3 L991.5 269.5 L991.5 267.4 L993.7 264.9 L995.9 265.5 L996.5 263.3 L995.9 258.8 L998.2 260.3 L998.7 263.3 L1000.4 261.2 L1003.7 259.1 L1006.5 259.4 L1007.6 259.7 L1010.4 258.5 L1013.8 258.2 L1014.9 255.7 L1018.8 256.4 L1021.6 257.9 L1023.2 259.7 L1023.8 257.3 L1021.6 255.1 L1021.6 250.8 L1023.2 245.4 L1024.9 242.8 L1027.7 244.3 L1028.3 249.0 L1027.7 254.1 L1027.7 258.8 L1028.8 261.8 L1027.1 265.2 L1029.4 263.3 L1029.9 258.8 L1029.4 254.1 L1029.9 247.2 L1031.6 247.2 L1033.8 246.5 L1036.6 244.3 L1037.2 241.2 L1040.5 240.4 L1043.9 238.4 L1043.9 235.4 L1047.2 232.8 L1051.7 231.0 L1056.1 229.1 L1059.5 226.2 L1063.1 222.6 L1065.0 224.7 L1067.3 227.7 L1071.7 228.6 L1073.4 233.2 L1069.5 237.6 L1069.5 240.4 L1072.8 240.8 L1078.4 241.6 L1084.0 243.5 L1088.4 241.6 L1090.7 247.2 L1090.1 250.8 L1092.9 251.4 L1095.1 249.0 L1099.6 249.7 L1102.9 245.4 L1108.5 245.4 L1114.1 249.0 L1116.3 251.4 L1123.0 251.1 L1125.2 255.1 L1130.8 255.7 L1134.1 254.4 L1136.9 257.3 L1137.5 254.1 L1143.1 254.8 L1147.5 257.6 L1147.5 268.2 L1146.4 269.3 L1144.7 269.5 L1145.8 272.6 L1147.0 275.0 L1144.2 275.0 L1140.8 276.7 L1137.5 279.7 L1136.4 280.8 L1131.9 281.3 L1129.1 281.1 L1129.7 284.1 L1128.6 285.2 L1127.4 286.2 L1128.6 288.3 L1127.4 291.2 L1125.2 294.7 L1123.5 295.4 L1121.5 298.7 L1120.8 296.0 L1120.4 292.2 L1120.3 288.3 L1121.9 285.6 L1124.1 284.1 L1126.3 282.0 L1129.1 278.6 L1129.7 275.0 L1125.2 276.7 L1121.9 277.0 L1119.6 280.8 L1119.1 282.0 L1116.3 283.0 L1113.0 282.0 L1108.5 282.4 L1105.7 282.6 L1102.9 285.6 L1100.1 288.3 L1097.9 291.2 L1099.6 293.2 L1101.3 293.5 L1102.9 293.2 L1104.0 295.0 L1103.5 297.8 L1103.5 300.4 L1102.9 303.0 L1101.3 305.5 L1099.0 308.7 L1097.4 311.0 L1095.1 312.1 L1093.8 311.5 L1092.6 312.8 L1091.5 314.0 L1091.5 315.1 L1089.0 316.5 L1089.9 318.3 L1091.1 320.5 L1091.1 322.6 L1090.1 323.6 L1087.9 324.2 L1087.7 322.6 L1088.1 320.8 L1087.5 319.5 L1086.2 319.1 L1086.5 317.3 L1085.5 316.3 L1084.0 316.8 L1082.1 318.0 L1082.9 316.0 L1081.8 314.9 L1080.1 316.5 L1078.4 317.4 L1078.1 318.4 L1079.5 320.1 L1081.4 319.4 L1083.4 320.0 L1081.8 321.2 L1080.1 322.9 L1081.0 324.2 L1081.8 326.4 L1082.8 328.6 L1082.3 330.5 L1082.3 332.1 L1080.6 334.1 L1079.5 335.9 L1077.9 337.7 L1076.2 338.8 L1074.2 339.5 L1072.3 340.1 L1070.1 340.8 L1069.5 341.9 L1069.2 340.4 L1067.3 340.3 L1065.8 341.3 L1064.8 343.4 L1065.6 345.2 L1067.3 346.9 L1068.4 348.7 L1068.7 350.9 L1068.4 352.1 L1066.7 353.2 L1065.8 353.5 L1064.1 355.3 L1063.9 353.8 L1063.4 353.3 L1062.3 353.1 L1061.5 351.7 L1060.8 351.2 L1059.5 350.7 L1058.9 349.8 L1058.3 350.9 L1058.0 352.1 L1057.5 353.8 L1058.1 354.7 L1058.7 356.0 L1059.2 357.2 L1060.4 357.7 L1061.1 358.3 L1062.1 359.6 L1062.1 361.1 L1062.8 362.4 L1063.0 363.4 L1062.1 363.4 L1060.6 362.4 L1059.8 361.7 L1059.1 360.3 L1058.7 358.6 L1058.6 357.7 L1057.8 356.8 L1056.8 355.7 L1056.5 354.4 L1056.8 353.2 L1056.9 351.5 L1056.3 349.5 L1055.8 347.5 L1055.7 346.3 L1054.8 345.5 L1053.1 347.2 L1052.0 346.9 L1052.2 344.9 L1051.7 343.1 L1050.3 341.3 L1049.8 341.4 L1049.4 340.1 L1049.2 339.2 L1047.9 339.2 L1046.6 340.1 L1045.0 340.2 L1043.9 340.7 L1043.3 342.2 L1041.9 342.8 L1040.5 344.2 L1038.6 346.1 L1037.2 347.2 L1036.3 348.1 L1036.3 350.0 L1035.9 352.1 L1035.9 353.5 L1034.9 354.6 L1034.1 355.3 L1033.3 355.9 L1032.2 354.9 L1031.6 353.2 L1030.8 351.5 L1030.2 349.8 L1029.7 348.1 L1028.8 346.3 L1028.3 344.6 L1028.0 343.4 L1027.9 341.6 L1027.7 340.4 L1026.0 341.3 L1024.4 340.4 L1023.8 339.4 L1024.9 338.6 L1023.2 338.0 L1022.1 337.4 L1021.6 336.3 L1021.0 335.7 L1018.8 335.9 L1016.0 335.9 L1015.6 335.9 L1013.2 335.6 L1011.0 335.3 L1010.2 333.7 L1008.2 334.1 L1006.5 334.0 L1004.9 332.8 L1003.7 331.4 L1003.2 329.9 L1001.5 329.3 L1001.0 329.9 L1000.4 330.5 L1001.0 331.8 L1002.1 333.5 L1002.8 334.3 L1002.7 335.6 L1003.5 336.4 L1003.5 335.4 L1004.1 334.8 L1004.4 335.8 L1004.3 336.8 L1005.4 337.2 L1007.1 337.2 L1008.8 335.8 L1009.5 334.7 L1009.9 336.2 L1009.9 337.0 L1011.5 337.8 L1013.5 339.2 L1012.3 341.6 L1011.3 343.4 L1009.9 344.6 L1008.2 345.8 L1005.1 346.2 L1002.6 347.8 L1001.0 349.2 L998.7 349.9 L997.1 350.6 L995.4 350.7 L994.8 349.2 L994.5 347.5 L994.3 346.3 L993.2 344.6 L992.0 342.8 L990.6 340.4 L989.8 338.0 L988.4 336.2 L987.0 334.1 L985.9 332.4 L985.7 330.5 L985.1 332.4 L985.0 332.8 L984.2 331.8 L983.2 330.0 L982.9 328.3 L985.0 328.2 L985.6 327.3 L985.9 326.0 L986.6 324.0 L986.9 322.6 L987.1 321.2 L985.9 321.1 L984.8 321.6 L983.1 321.9 L981.1 320.8 L979.8 321.6 L978.1 320.9 L977.3 319.8 L976.4 318.4 L976.7 317.3 L976.1 316.3 L977.5 315.7 L979.2 315.5 L979.6 314.5 L981.4 314.5 L983.7 313.3 L985.9 313.3 L987.6 314.3 L989.3 314.8 L991.5 314.8 L993.2 314.0 L993.2 312.5 L991.5 311.0 L989.8 309.6 L988.5 308.7 L989.3 307.1 L989.6 305.8 L990.7 305.3 L988.7 305.5 L986.2 306.6 L985.9 307.6 L986.5 308.2 L987.6 308.2 L986.2 308.8 L984.8 309.6 L984.2 309.3 L983.1 308.0 L984.2 307.1 L982.6 306.8 L982.0 306.0 L981.1 306.4 L980.0 308.2 L978.9 310.2 L978.3 311.3 L977.8 312.4 L978.1 313.3 L979.0 314.3 L979.2 314.6 L978.1 314.8 L977.0 315.2 L976.1 316.0 L975.9 315.1 L974.8 314.9 L973.6 315.2 L973.4 316.3 L972.3 315.5 L972.2 317.0 L972.9 318.0 L973.6 318.8 L973.3 319.3 L972.6 320.0 L972.6 321.2 L971.9 321.2 L971.1 320.8 L970.5 319.4 L971.1 318.7 L970.1 318.0 L969.4 316.8 L968.5 315.5 L968.6 314.0 L968.1 313.0 L966.6 311.8 L964.7 310.9 L963.6 309.5 L962.8 308.2 L962.2 308.8 L962.2 307.7 L960.6 308.2 L960.7 309.8 L961.9 310.9 L962.7 312.5 L964.2 313.4 L964.8 313.4 L964.7 314.2 L966.1 314.9 L967.5 316.0 L967.4 316.5 L965.8 315.7 L965.4 316.7 L966.0 317.7 L965.3 318.4 L964.7 319.3 L964.4 318.8 L965.0 317.3 L964.3 316.3 L963.4 315.4 L962.6 315.1 L961.4 314.3 L960.5 313.6 L959.2 312.5 L958.6 311.3 L958.0 310.2 L956.8 309.6 L955.4 310.6 L954.1 311.5 L952.5 311.2 L951.4 311.0 L950.4 311.8 L950.5 312.8 L950.5 313.6 L949.4 314.3 L947.8 314.9 L946.9 316.5 L946.6 317.1 L947.1 318.1 L946.1 319.3 L944.8 320.8 L942.0 320.9 L940.9 321.8 L939.9 321.1 L938.7 320.2 L937.0 320.5 L937.1 318.6 L936.3 318.0 L937.0 316.0 L937.2 314.0 L936.6 311.8 L938.0 310.7 L940.4 310.9 L942.7 311.0 L944.9 311.2 L945.5 309.5 L945.7 307.6 L944.7 305.8 L944.3 305.1 L942.1 304.2 L941.7 303.1 L943.6 302.5 L945.1 302.8 L944.9 300.9 L945.6 301.5 L947.1 301.3 L948.6 300.2 L948.7 298.8 L950.6 298.1 L951.5 296.9 L952.1 295.0 L953.0 294.3 L954.7 294.3 L955.9 293.9 L956.5 293.2 L956.5 291.4 L956.0 290.3 L956.0 287.7 L956.5 287.0 L958.6 285.8 L958.4 288.3 L959.0 288.7 L958.3 289.7 L957.7 290.9 L957.8 291.6 L958.9 293.2 L960.3 292.8 L961.9 292.2 L962.7 293.4 L965.3 292.2 L967.5 291.8 L969.0 292.4 L970.3 290.9 L970.3 287.7 L971.4 286.0 L973.1 287.3 L974.0 286.8 L974.1 284.5 L973.1 283.5 L973.1 282.6 L974.8 282.0 L978.1 282.0 L980.3 281.1 L978.7 279.7 L975.9 279.9 L972.5 281.1 L970.9 279.7 L970.6 277.4 L970.9 274.3 L972.0 272.6 L974.2 269.3 L975.2 268.2 L973.9 266.6 L971.4 267.4 L970.6 270.0 L969.2 272.3 L967.5 274.3 L966.2 277.0 L966.1 279.3 L967.7 280.8 L967.2 282.4 L965.5 284.1 L965.3 286.6 L964.7 288.9 L963.1 289.3 L962.7 290.5 L961.4 290.5 L961.1 288.9 L960.1 286.0 L959.4 283.0Z M746.3 257.6 L749.6 259.4 L753.5 263.3 L756.3 264.7 L757.8 266.0 L755.2 270.0 L754.1 270.6 L751.3 269.3 L750.2 267.4 L748.0 265.5 L746.3 268.2Z M1145.9 250.1 L1147.5 249.0 L1147.5 251.1 L1146.4 251.4Z M746.3 249.0 L749.0 249.7 L748.5 251.1 L746.3 251.1Z M940.5 300.2 L943.0 299.9 L945.2 299.2 L948.3 298.3 L948.6 295.6 L947.1 295.0 L946.7 293.2 L945.2 291.2 L944.7 289.5 L943.3 289.3 L944.4 287.3 L944.9 286.0 L942.4 285.8 L943.3 283.9 L941.3 283.9 L940.4 286.2 L940.5 288.3 L940.8 290.3 L941.6 290.3 L941.3 291.8 L943.0 291.4 L943.6 293.2 L943.6 294.3 L941.9 294.5 L942.2 296.0 L941.1 297.2 L943.3 298.0 L943.6 298.3 L941.9 298.7Z M939.8 296.5 L940.0 294.5 L940.7 292.2 L940.0 290.9 L938.5 290.7 L937.4 292.2 L935.8 292.8 L936.0 294.5 L936.3 296.0 L935.4 297.2 L936.3 297.8 L938.0 297.2Z M960.8 319.1 L964.3 318.8 L963.8 320.9 L960.8 319.7Z M956.0 314.8 L957.7 314.8 L957.6 317.4 L956.3 317.7Z M956.5 312.5 L957.5 311.8 L957.4 314.0 L956.7 314.0Z M973.1 322.6 L976.2 323.0 L973.6 323.3Z M982.9 323.3 L985.4 322.5 L984.2 323.7Z M959.2 290.1 L960.8 289.3 L960.7 290.9 L959.4 290.9Z M967.2 287.3 L968.1 285.4 L968.0 286.6Z M949.6 316.8 L950.7 316.5 L950.4 317.3Z M938.7 276.2 L939.7 275.5 L939.4 277.4Z M945.2 280.8 L945.8 279.3 L945.6 280.6Z M1004.3 249.0 L1006.0 245.4 L1008.2 241.6 L1009.3 237.6 L1011.5 233.2 L1016.0 229.6 L1020.5 227.2 L1023.2 227.2 L1022.7 230.1 L1017.1 233.2 L1013.8 236.3 L1011.5 239.6 L1010.4 243.5 L1009.3 247.2 L1011.0 251.8 L1008.2 252.1 L1006.5 250.8Z M1001.0 257.3 L1002.6 256.4 L1002.1 258.2Z M1012.7 253.1 L1014.3 254.1 L1013.2 255.1Z M959.2 218.3 L961.9 223.7 L965.3 228.2 L967.5 223.7 L970.9 220.0 L968.1 215.4 L967.0 210.6 L962.5 210.6 L959.2 212.5Z M967.5 212.5 L969.2 206.7 L973.6 207.4 L977.0 209.3 L974.8 213.7 L970.3 213.7Z M970.3 223.7 L973.6 222.1 L972.5 219.4 L970.3 219.4Z M998.2 206.0 L1002.6 203.3 L1001.5 208.0Z M1006.0 207.4 L1011.5 204.0 L1013.8 207.4 L1009.3 209.3Z M1013.8 202.6 L1019.3 200.4 L1017.1 204.7Z M1052.2 213.7 L1053.3 208.0 L1056.1 206.0 L1058.9 208.7 L1059.5 213.7 L1057.8 217.2 L1054.4 217.2Z M1058.7 218.3 L1061.1 215.4 L1063.4 217.7 L1063.7 221.6 L1061.1 223.2 L1058.9 221.6Z M1049.4 205.4 L1051.1 201.1 L1053.9 200.4 L1055.6 204.0 L1053.9 206.7 L1050.5 207.4Z M1100.1 233.2 L1102.9 231.0 L1107.4 232.3 L1108.5 235.4 L1105.2 236.3 L1101.3 236.3Z M1102.9 240.8 L1106.3 240.8 L1105.7 242.8 L1103.3 242.4Z M1109.6 234.1 L1114.1 234.6 L1113.0 236.3Z M1105.2 292.6 L1106.3 294.1 L1106.6 296.9 L1106.5 300.4 L1107.9 302.1 L1106.3 305.5 L1106.8 306.3 L1105.2 307.1 L1105.2 304.6 L1105.2 301.3 L1104.9 297.8 L1104.8 294.5Z M1080.9 338.6 L1081.8 335.9 L1082.8 336.2 L1082.2 338.6 L1081.5 339.8Z M1068.0 343.1 L1069.5 342.1 L1070.6 342.7 L1069.5 344.1 L1068.0 344.0Z M1035.8 354.1 L1036.4 354.0 L1038.1 356.6 L1037.4 358.0 L1036.3 358.3 L1035.7 356.6Z M1109.6 309.5 L1111.8 308.2 L1110.7 309.3Z M1114.1 307.1 L1116.3 305.5 L1115.2 306.8Z M1118.5 302.1 L1120.8 299.5 L1120.2 300.8Z M1129.1 284.1 L1130.2 282.6 L1129.7 283.9Z M1006.3 350.8 L1007.6 350.8 L1007.1 351.2Z M1050.2 352.1 L1050.5 349.8 L1050.4 351.5Z" fill="#2f3047" stroke="#787990" stroke-width="0.5" stroke-linejoin="round"/>
<path d="M999.3 307.9 L1001.5 306.3 L1003.7 305.8 L1006.0 306.3 L1006.0 308.2 L1004.1 308.7 L1003.7 309.5 L1003.0 309.8 L1003.7 311.8 L1005.4 312.5 L1005.7 314.0 L1006.9 315.1 L1006.0 316.3 L1006.5 317.7 L1006.9 319.8 L1007.0 320.5 L1004.9 320.9 L1003.2 320.5 L1001.5 319.7 L1001.4 318.4 L1001.8 317.0 L1002.1 315.5 L1001.0 313.3 L999.8 311.8 L999.3 309.5Z" fill="#1e1e2d" stroke="#787990" stroke-width="0.5" stroke-linejoin="round"/>
<path d="M1104.0 367.9 L1104.0 375.2 M1085.2 375.5 L1086.2 375.4 L1086.3 375.1 M1069.0 362.8 L1070.1 364.0 L1071.7 363.4 L1073.4 363.6 L1074.5 363.3 L1075.1 362.2 L1075.6 361.1 L1075.7 360.2 L1077.3 360.2 L1078.4 360.2 M1074.1 359.9 L1075.3 360.1 L1075.4 359.4 M944.4 323.1 L944.9 324.6 L945.6 326.6 L943.6 327.7 L942.8 328.7 L940.8 330.3 L937.2 331.6 L937.2 333.3 M937.2 332.8 L932.2 332.8 M937.2 333.3 L937.2 335.0 L933.5 335.0 L933.5 338.0 L932.4 338.6 L932.4 340.7 L928.0 340.7 M937.2 333.3 L941.6 336.2 L939.7 336.2 L940.8 346.3 L941.0 347.5 L936.5 347.5 L935.0 347.6 L934.1 347.4 L933.3 348.3 M928.5 346.9 L930.7 346.2 L932.1 346.9 L933.3 348.3 L934.2 351.1 M941.6 336.2 L948.2 340.9 L948.2 341.4 L950.5 342.5 L950.6 343.4 L951.6 343.3 L953.6 342.7 L960.3 338.0 L958.0 336.8 L957.5 334.6 L957.9 332.4 L957.5 329.6 L956.9 327.3 L955.3 324.9 L956.2 323.3 L956.5 320.7 M957.5 329.6 L958.4 327.7 L959.7 325.7 M960.3 338.0 L962.7 339.1 L963.6 338.6 L973.6 342.8 L973.6 342.2 L974.8 342.2 L974.8 339.8 L974.8 330.9 L974.4 329.6 L975.0 327.8 M974.8 339.8 L988.1 339.8 M985.8 330.5 L985.1 328.2 M963.6 338.6 L964.7 341.9 L964.2 345.9 L962.1 349.6 L960.3 350.1 L957.5 350.6 L954.7 350.3 L951.9 349.6 L950.9 351.9 M951.6 343.3 L951.6 346.3 L950.8 347.6 L948.3 347.7 L947.1 348.2 L949.4 350.9 L950.9 351.9 M947.1 348.2 L944.7 349.0 L942.4 350.0 L940.8 351.7 L940.8 353.3 L938.0 353.6 L937.2 352.1 L935.2 351.5 L934.2 351.1 M928.3 351.2 L931.6 350.8 L931.6 351.9 L930.4 352.7 M928.2 349.7 L930.2 349.5 L931.5 349.9 L930.2 350.0 L928.3 350.3 M931.6 350.8 L934.2 351.1 M932.1 354.9 L934.6 353.8 L935.4 355.5 L936.9 356.6 L937.4 356.5 L938.0 353.6 M934.1 357.3 L935.4 355.5 M937.4 356.5 L937.6 357.7 L938.5 358.5 L938.5 360.1 M943.4 359.3 L943.8 357.2 L943.9 354.4 L943.8 352.7 L946.9 352.5 L947.9 352.7 L949.4 350.9 M940.8 353.3 L943.8 353.8 M948.2 358.2 L947.6 355.5 L946.9 352.5 M948.7 358.1 L948.7 354.9 L947.9 352.7 M949.9 357.8 L950.0 354.9 L950.9 351.9 M956.4 359.9 L956.9 358.3 L958.6 357.2 L960.1 357.2 L960.8 355.5 L962.1 353.2 L962.7 350.9 L962.5 350.3 L962.1 349.6 M962.7 350.9 L963.6 352.7 L964.0 353.8 L962.5 353.8 L964.2 356.6 M964.2 356.6 L965.8 356.4 L968.1 354.9 L970.3 354.4 L972.4 352.7 M973.6 342.8 L973.6 347.3 L972.4 348.1 L971.6 350.4 L972.4 352.7 L973.2 355.1 M964.2 356.6 L963.1 358.3 L963.1 360.0 L964.7 362.5 M957.8 362.4 L961.6 362.5 L964.7 362.5 L965.3 361.1 L967.6 361.1 M957.8 363.9 L959.5 363.9 L959.5 362.5 M961.6 362.5 L963.1 363.6 L962.8 365.6 L963.1 367.2 L960.8 367.6 L959.7 368.9 L959.4 369.4 M967.6 361.1 L967.0 362.5 L966.7 365.0 L965.0 367.2 L964.7 368.9 L963.6 370.0 L961.9 370.4 L961.4 370.1 L960.5 371.5 M960.3 370.6 L960.9 370.0 L961.4 370.1 M967.6 361.1 L968.6 359.4 L972.0 360.3 L974.2 359.3 L977.4 359.4 M973.2 355.1 L975.0 356.6 L977.4 359.4 M973.2 355.1 L974.2 355.3 L974.8 353.5 L976.4 354.4 L978.1 354.6 L979.2 354.1 L979.8 353.7 L981.2 354.1 L983.0 351.9 L983.9 351.3 L983.8 353.0 L984.7 354.4 M984.7 354.4 L984.8 355.6 L983.7 356.3 L986.2 359.0 L984.8 360.3 L981.4 360.9 L981.2 361.1 L979.8 360.0 L977.4 359.4 M984.7 354.4 L985.1 353.0 L986.5 350.9 L987.2 349.8 L987.6 348.9 L988.0 346.3 L989.8 344.6 M987.6 348.9 L989.3 348.5 L991.5 348.7 L993.5 350.4 L994.2 350.9 L994.9 350.8 M994.2 350.9 L993.5 352.7 L994.8 352.7 L995.2 352.1 M994.8 352.7 L994.8 354.4 L997.1 355.4 L999.3 356.0 L1000.4 356.0 L997.1 359.4 L994.8 360.0 L993.7 360.3 L992.6 360.6 M992.6 360.6 L990.9 361.1 L989.3 361.0 L987.9 360.1 L986.2 359.0 M992.6 360.6 L992.6 365.9 L993.3 366.9 M984.8 360.3 L985.4 361.7 L985.9 363.1 L984.8 364.8 L984.7 366.1 L988.8 368.3 L988.9 368.9 L990.6 370.2 M981.2 361.1 L981.4 362.4 L980.3 363.9 L979.9 365.6 L979.9 366.6 L980.9 366.1 L984.7 366.1 M979.9 366.6 L979.2 368.0 L979.4 368.3 L979.7 369.9 L980.7 369.9 L981.2 368.7 L980.9 367.7 L981.2 367.7 L980.9 366.1 M979.2 368.0 L980.9 367.7 M979.7 369.9 L979.9 372.3 L981.2 374.2 L983.1 375.3 L983.7 375.5 L984.8 375.6 L985.5 377.9 L987.0 378.0 L989.3 377.7 L992.0 376.8 M985.5 377.9 L985.7 380.2 L986.8 381.3 L986.8 383.1 L986.1 384.2 L985.1 383.4 L985.2 381.3 L984.0 380.8 L983.3 380.2 L983.9 377.1 L983.7 375.5 M984.0 380.8 L980.7 381.9 L980.8 382.6 M981.2 374.2 L979.0 374.5 L978.7 375.4 L978.8 377.3 L979.8 378.8 L979.2 380.1 L977.2 378.3 L975.1 377.9 L973.6 377.3 L973.6 379.6 L971.4 379.6 L971.4 383.3 L973.0 384.9 L975.1 385.2 M980.8 382.6 L979.1 383.1 L977.0 385.4 L975.1 385.2 M980.8 382.6 L983.5 383.9 L983.7 386.0 L983.3 388.4 L981.8 390.6 L979.7 390.4 L977.5 388.4 L975.1 385.2 M979.7 390.4 L977.0 392.1 L975.3 394.7 L972.5 394.2 L970.0 396.2 L969.2 393.6 L969.2 390.2 L970.3 390.2 L970.3 385.8 L973.0 384.9 M965.3 398.3 L966.4 398.4 L969.2 398.1 L969.2 393.6 M960.1 384.6 L962.5 384.7 L967.5 384.7 L970.8 385.3 L973.0 384.9 M981.8 390.6 L982.6 393.2 L982.6 394.9 L983.6 396.2 M977.0 399.6 L978.7 398.4 L979.7 399.6 L978.4 400.9 L977.0 399.6 M981.4 395.0 L982.6 395.4 L982.5 396.7 L981.4 396.3 L981.4 395.0 M960.6 371.7 L961.6 371.6 L965.4 371.6 L965.8 373.2 L968.6 373.4 L969.7 372.8 L971.2 373.2 L971.4 377.3 L973.6 377.2 M844.1 348.7 L844.1 347.8 L844.9 346.9 L846.0 346.7 L845.5 345.5 L845.5 344.8 L847.5 344.8 L847.5 346.9 L847.9 347.0 M847.5 344.8 L848.5 344.1 M846.6 349.5 L847.4 348.8 L848.3 349.2 L849.0 349.9 M847.4 348.8 L847.5 348.0 L848.5 347.3 M849.4 350.4 L850.2 349.5 L851.3 349.3 L852.5 348.3 L854.2 348.1 M851.4 352.5 L852.4 352.7 L853.6 352.8 M854.5 355.9 L854.5 354.8 L854.8 354.2 M867.4 351.7 L866.1 352.7 L865.5 354.4 L866.3 356.0 L866.7 357.2 L868.9 357.2 L869.4 358.3 L871.7 358.1 L871.3 360.0 L871.9 361.3 L872.2 362.8 L872.3 363.7 M880.0 355.5 L878.9 356.6 L878.6 358.3 L879.2 359.2 L880.0 359.2 M883.2 358.4 L882.5 360.0 L883.0 361.3 L883.9 362.8 M886.7 358.6 L886.2 360.5 L886.5 362.4 M859.1 363.4 L860.5 364.2 L862.2 364.7 L863.0 365.0 M863.0 365.0 L864.4 366.1 L865.5 367.6 L867.8 367.6 L868.9 369.7 M857.4 368.8 L857.7 369.8 L858.9 370.6 L859.6 368.9 L862.2 367.8 L863.0 365.0 M869.4 377.3 L870.0 379.1 L870.2 381.1 L869.7 382.3 L870.0 383.4 L869.4 384.8 L868.6 385.9 M869.4 384.8 L870.6 387.2 L870.6 389.0 L872.0 391.1 M872.0 391.1 L870.8 393.2 L870.6 396.3 L868.9 399.5 L868.6 402.7 L868.9 405.4 L868.3 408.1 L867.8 411.6 L866.9 415.2 L867.0 419.0 L867.2 422.9 L866.1 427.0 L865.5 429.6 L866.3 432.2 L870.0 433.1 L870.7 433.9 M870.4 434.4 L870.4 438.6 M872.0 391.1 L873.3 389.9 L875.0 390.5 L877.0 390.4 M877.0 390.4 L877.8 388.4 L880.6 386.9 L882.0 388.0 M877.0 390.4 L878.9 392.3 L881.7 393.8 L882.7 394.4 L881.7 396.5 L883.9 396.8 L885.6 396.3 L886.0 394.6 M882.7 400.4 L882.3 402.7 L881.8 405.4 M860.6 355.3 L860.1 356.9 M867.0 342.5 L866.9 343.9 L867.0 344.8 M959.4 283.0 L960.1 281.3 L960.8 278.6 L960.5 275.5 L960.3 272.6 L961.9 270.6 L963.1 267.4 L964.2 264.7 L965.3 261.8 L967.0 259.1 L969.2 258.8 L969.9 257.1 M969.9 257.1 L971.4 259.1 L973.3 260.9 L973.4 264.7 L973.9 266.6 M969.9 257.1 L971.4 257.3 L973.6 258.2 L975.5 256.4 L975.9 254.1 L978.1 254.1 L979.2 256.4 L979.1 257.1 L981.2 254.8 M979.1 257.1 L978.7 258.8 L980.3 261.2 L979.2 263.8 L980.3 266.9 L980.0 269.3 L980.9 271.3 L982.0 274.1 L980.3 276.7 L977.9 279.7 M978.1 282.0 L977.5 284.1 L977.5 285.6 M974.0 285.4 L975.9 285.6 L977.5 286.0 L978.1 287.7 L978.3 288.9 M970.3 289.1 L972.5 288.5 L974.8 288.9 L976.5 289.9 L978.3 288.9 M976.5 289.9 L975.9 291.6 L975.3 292.8 L973.1 293.4 L972.3 292.4 M970.6 290.7 L972.3 291.2 L972.3 292.4 L969.0 292.4 M973.1 293.4 L973.5 295.6 L973.2 297.8 L973.6 299.5 L972.1 302.0 M972.1 302.0 L969.2 301.6 L967.9 301.3 L965.8 299.9 L963.6 298.8 L963.4 298.8 M950.7 298.0 L952.5 298.0 L953.4 298.5 L953.6 299.0 M949.7 298.5 L950.5 299.2 L951.6 300.4 L953.0 301.3 L954.0 301.3 M955.4 304.5 L954.7 305.0 L953.6 306.8 L954.7 307.2 L954.5 308.5 L954.7 309.9 L955.3 310.6 M954.7 307.2 L956.4 306.8 L956.9 307.2 L958.5 306.1 L958.5 305.6 L957.6 305.5 L957.6 304.6 M958.5 305.8 L960.5 305.5 L962.2 306.3 L962.1 307.4 L962.2 307.7 M962.2 306.3 L963.6 306.1 L964.8 305.8 L965.3 304.6 L966.0 303.8 L965.7 302.8 L963.6 302.1 L962.3 302.5 M965.7 302.8 L967.0 302.1 L967.9 301.3 M966.0 303.8 L967.9 304.2 L969.7 303.3 L971.5 303.1 L972.1 302.0 M971.5 303.1 L972.4 304.0 L970.9 306.0 L969.5 306.9 L968.0 307.2 L966.4 307.2 L965.3 306.3 L964.8 305.8 M962.2 307.9 L964.0 307.9 L965.3 306.3 M964.5 308.4 L965.8 308.4 L968.1 308.7 L968.5 308.8 L968.3 310.2 L968.6 311.0 L967.5 312.5 M964.5 308.4 L964.7 310.2 L966.4 311.5 L967.5 312.5 M968.0 307.2 L968.1 308.7 M968.6 311.0 L969.5 312.1 L969.9 313.4 L970.3 314.9 L970.1 315.5 L969.2 316.7 M968.5 313.4 L969.3 312.4 M969.9 313.4 L971.9 312.8 L972.4 314.3 L970.3 314.9 M972.4 314.3 L974.2 314.0 L975.9 314.2 L976.3 313.7 L976.2 314.9 L975.9 315.1 M976.3 313.7 L977.5 313.3 L978.1 313.3 M971.9 312.8 L972.0 311.5 L972.2 309.9 L972.5 310.6 L975.3 310.7 L977.0 310.1 L978.8 310.7 M969.5 306.9 L970.8 308.4 L970.9 309.0 L972.2 309.5 L972.2 309.9 M969.5 312.1 L970.9 311.5 L972.0 311.5 M972.4 304.0 L974.2 304.0 L976.5 303.3 L977.5 304.6 L978.3 306.3 L978.3 307.9 L980.0 308.2 M976.5 303.3 L978.1 303.1 L979.4 303.8 L980.3 306.3 L978.3 307.9 M973.2 297.8 L974.8 297.1 L977.5 297.8 L980.9 298.1 L982.3 296.7 M978.3 288.9 L981.2 290.3 L981.4 292.2 L983.1 294.5 L982.3 296.7 M982.3 296.7 L984.8 296.3 L986.5 298.7 L989.3 300.4 L991.5 301.1 L991.1 303.0 L991.3 304.2 L989.6 305.3 M937.1 313.4 L937.8 313.3 L939.7 313.6 L939.2 314.8 L939.1 316.7 L938.8 318.4 L938.7 320.2 M944.9 311.2 L947.7 312.1 L950.5 312.7 M956.5 291.4 L957.8 291.6 M938.8 293.0 L939.9 293.0 L938.5 291.0 M993.2 314.0 L995.4 314.6 L995.6 316.0 L996.8 316.7 L996.2 317.7 L996.5 319.4 L996.8 320.2 L994.2 320.4 L991.5 320.8 L989.3 320.8 L987.8 321.5 L987.2 322.1 M991.5 311.2 L994.3 311.5 L995.9 312.4 L998.6 313.4 L1001.1 313.6 M995.4 314.6 L997.1 314.3 L998.6 313.4 M997.1 314.5 L997.6 315.5 L998.7 317.0 L998.4 317.8 M996.8 316.7 L998.4 317.8 L1000.4 316.8 L1001.4 318.6 M994.2 320.4 L992.8 321.4 L992.6 324.1 L990.1 325.4 L987.9 326.9 L986.7 326.4 M986.9 323.8 L987.6 324.0 L987.4 324.9 L986.7 325.6 L986.0 325.8 M985.1 328.2 L985.8 330.5 M986.6 326.4 L986.5 328.0 L985.9 330.5 M985.9 330.7 L987.1 330.9 L988.7 329.9 L988.1 328.0 L990.4 327.0 L990.1 325.4 M990.4 327.0 L993.7 328.3 L996.7 330.9 L998.7 331.1 M998.7 331.1 L999.8 329.9 L1000.4 329.9 M998.7 331.1 L1000.8 331.8 M996.8 320.2 L997.6 321.9 L998.2 323.3 L997.6 324.6 L998.5 326.0 L1000.2 327.6 L1000.4 329.3 L1001.0 329.9 M994.6 346.5 L995.2 345.2 L997.1 345.3 L999.3 345.8 L1001.0 344.0 L1004.9 343.4 L1008.2 342.2 L1009.0 339.8 L1008.4 339.0 M1004.9 343.4 L1006.0 346.1 M1008.4 339.0 L1005.5 338.8 L1004.4 337.2 M1008.4 339.0 L1009.3 337.3 L1009.5 336.2 M1003.6 336.6 L1004.2 336.7 M1007.0 320.1 L1009.3 319.1 L1010.8 318.8 L1013.2 320.1 L1015.1 321.1 L1015.1 322.5 L1014.4 324.0 L1014.7 327.3 L1015.7 328.1 L1014.8 330.0 L1016.6 332.1 L1017.3 333.5 L1016.9 334.3 L1015.6 335.9 M1014.8 330.0 L1016.6 330.7 L1018.5 330.5 L1020.7 330.0 L1021.2 328.3 L1023.2 327.6 L1024.1 327.3 L1024.9 325.3 L1026.0 324.4 L1026.6 322.6 L1026.6 321.5 L1028.8 320.5 L1030.4 320.2 M1015.1 322.5 L1017.1 322.7 L1018.8 321.5 L1021.0 320.0 L1022.5 320.2 L1024.4 319.8 L1025.1 319.1 L1026.4 318.7 L1026.6 320.5 L1028.3 320.0 L1030.4 320.2 M1021.0 320.0 L1018.8 317.7 L1016.6 316.3 L1014.9 314.5 L1013.8 313.0 L1012.1 312.2 L1010.4 314.3 L1009.3 314.3 L1009.3 308.7 M1005.4 313.6 L1007.1 312.8 L1009.3 314.3 M1009.3 308.7 L1012.2 307.7 L1014.9 309.8 L1016.0 311.0 L1019.3 310.9 L1020.5 312.7 L1022.7 314.6 L1025.5 313.0 L1026.0 312.8 M1026.0 312.8 L1025.5 314.2 L1028.3 315.1 L1026.6 316.0 L1025.5 316.0 L1024.1 315.1 L1023.2 316.8 L1022.1 317.4 L1022.9 318.8 L1022.5 320.2 M1026.0 312.4 L1028.8 311.6 L1029.7 311.5 L1032.7 311.9 L1036.3 313.0 M1036.3 313.0 L1033.8 314.8 L1031.6 315.7 L1029.4 316.3 L1029.0 317.0 L1030.5 318.4 L1030.4 320.2 M1029.0 317.0 L1026.6 316.8 L1024.4 316.8 L1025.5 316.0 M1001.7 306.4 L999.3 303.3 L998.9 302.1 L999.8 299.7 L1003.5 297.4 L1006.0 297.8 L1008.2 299.2 L1012.1 298.7 L1015.4 298.7 L1014.9 295.0 L1016.0 293.2 L1019.3 292.4 L1023.8 290.7 L1026.0 292.8 L1028.8 293.2 L1032.2 292.8 L1033.3 294.5 L1036.1 298.7 L1039.4 298.7 L1042.2 301.1 L1044.2 302.0 M1044.2 302.0 L1042.5 303.1 L1042.2 305.3 L1039.4 305.1 L1038.6 307.9 L1036.1 308.7 L1036.6 311.5 L1036.3 313.0 M1044.2 302.0 L1046.6 300.8 L1049.4 299.2 L1052.2 300.4 L1056.1 299.5 L1056.5 296.9 L1060.6 298.0 L1060.9 299.5 L1063.9 299.7 L1067.3 301.5 L1070.6 301.6 L1074.0 300.1 L1077.0 300.8 M1044.2 302.0 L1045.0 303.3 L1047.8 305.5 L1048.3 307.9 L1051.1 308.7 L1053.3 309.9 L1054.4 312.2 L1059.5 312.4 L1063.9 313.9 L1066.7 312.7 L1069.5 312.2 L1071.7 310.6 L1071.7 308.7 L1074.0 308.7 L1076.2 307.1 L1080.3 306.0 L1078.4 304.2 L1076.2 304.0 L1075.6 303.5 L1077.0 300.8 M1077.0 300.8 L1078.4 301.1 L1080.1 299.9 L1081.2 296.9 L1081.5 294.5 L1084.5 294.1 L1086.8 295.0 L1089.0 300.1 L1089.6 301.1 L1092.3 302.3 L1092.9 304.3 L1095.1 303.7 L1097.0 303.3 L1095.7 306.3 L1095.4 308.7 L1093.2 310.2 L1093.1 311.8 L1092.6 312.8 M1092.6 312.8 L1091.2 312.7 L1089.6 313.3 L1088.3 313.6 L1086.8 315.1 L1085.5 316.3 M1087.5 319.4 L1089.0 318.7 L1090.0 318.3 M1067.3 340.3 L1065.8 339.8 L1064.3 338.3 L1061.7 339.2 L1060.7 339.4 L1059.7 340.8 L1058.3 340.4 L1057.2 339.8 L1057.0 337.4 L1055.6 337.4 L1056.9 335.1 L1056.7 333.1 L1055.6 332.1 M1060.7 339.4 L1061.7 341.0 L1063.4 341.9 L1062.8 342.8 L1064.1 344.0 L1065.6 345.8 L1066.7 347.8 L1066.8 348.4 M1058.5 341.9 L1058.9 342.8 L1059.7 345.2 L1060.7 344.4 L1062.8 344.2 L1063.7 346.3 L1064.6 348.8 L1066.8 348.4 M1066.8 348.4 L1066.6 351.2 L1065.0 351.9 L1064.8 352.7 L1063.4 353.3 M1061.6 351.9 L1061.1 349.8 L1062.3 348.8 L1064.6 348.8 M1059.7 340.8 L1058.5 341.9 L1056.1 342.6 L1055.5 344.0 L1056.7 345.8 L1056.3 347.7 L1057.5 350.4 L1057.9 351.7 L1057.0 353.5 M1058.5 357.8 L1059.6 358.6 L1060.7 358.1 M1022.9 337.8 L1025.5 336.9 L1026.0 336.2 L1024.9 334.3 L1025.1 332.6 L1027.1 332.1 L1029.2 329.9 L1029.9 328.6 L1029.9 326.6 L1030.2 324.9 L1029.4 323.7 L1031.6 322.6 L1033.6 322.6 M1030.4 320.2 L1031.6 321.9 L1033.6 322.6 L1034.9 324.2 L1034.4 326.6 L1034.9 328.3 L1037.2 329.6 L1040.5 331.3 L1042.7 332.4 L1045.1 332.6 M1037.2 329.6 L1036.2 331.4 L1038.3 332.7 L1041.1 333.3 L1045.1 334.5 L1045.1 332.6 M1045.1 332.6 L1046.0 333.3 L1046.6 332.2 L1049.4 332.7 L1051.7 330.9 L1053.9 330.7 L1055.3 332.1 M1046.0 333.3 L1046.1 334.0 L1049.4 333.8 L1049.4 332.7 M1055.3 332.1 L1054.1 333.3 L1053.0 334.1 L1052.3 335.9 L1051.0 337.4 L1050.9 339.5 L1050.1 340.4 L1049.8 341.0 M1045.1 334.5 L1046.1 334.7 L1047.0 335.8 L1049.8 336.2 L1049.4 336.9 L1048.5 337.8 L1048.9 338.6 L1049.8 337.8 L1050.1 340.4 M1045.1 334.5 L1045.1 336.2 L1045.8 337.0 L1045.9 338.4 L1046.1 339.8" fill="none" stroke="#787990" stroke-width="0.5" stroke-linejoin="round"/>
<path d="M1074.2 389.9 L1075.6 388.7 L1077.3 388.5 L1079.5 387.8 L1081.8 387.3 L1083.1 385.4 L1083.2 384.2 L1084.5 384.6 L1085.7 383.1 L1086.8 381.3 L1088.4 380.8 L1089.9 381.8 L1091.2 381.8 L1092.3 379.3 L1093.5 378.7 L1094.7 377.7 L1097.4 378.7 L1099.4 378.5 L1098.5 380.2 L1097.9 381.7 L1099.6 382.8 L1101.8 384.2 L1102.9 385.1 L1104.0 383.7 L1104.6 381.3 L1104.8 379.1 L1105.7 377.0 L1106.8 379.1 L1107.2 381.1 L1108.8 381.9 L1109.1 383.7 L1109.6 385.8 L1110.7 386.9 L1112.4 388.0 L1113.5 390.2 L1115.0 392.0 L1116.9 393.6 L1117.6 395.0 L1118.0 397.8 L1117.4 400.7 L1116.9 403.4 L1115.5 405.2 L1114.6 407.4 L1114.1 409.8 L1111.8 410.7 L1110.1 412.4 L1108.2 411.2 L1106.8 412.0 L1104.0 411.2 L1102.6 409.2 L1101.3 407.5 L1100.9 406.0 L1100.4 407.0 L1100.1 405.4 L1100.6 404.0 L1099.6 405.0 L1098.5 406.4 L1097.6 406.0 L1096.5 404.0 L1095.7 403.0 L1092.9 402.0 L1090.7 402.2 L1087.3 403.1 L1085.1 404.0 L1084.5 405.2 L1082.8 405.2 L1080.6 405.2 L1078.4 406.7 L1076.2 406.7 L1075.1 405.8 L1075.7 404.4 L1075.8 402.7 L1075.1 400.7 L1074.6 398.6 L1074.0 396.9 L1073.4 395.0 L1073.4 393.2 L1073.6 391.4Z M1108.2 414.8 L1110.2 415.4 L1112.2 415.1 L1112.2 417.0 L1111.3 418.7 L1110.2 419.1 L1109.1 417.9 L1108.7 416.4Z M1099.1 407.7 L1100.7 407.8 L1100.1 408.2Z M1092.0 377.9 L1093.3 377.7 L1092.9 378.4Z M1098.9 380.5 L1099.5 380.5 L1099.3 381.1Z M789.8 255.2 L787.0 253.8 L784.2 253.5 L781.4 252.8 L778.6 252.8 L776.9 251.1 L774.7 251.1 L772.4 249.7 L770.8 251.4 L768.6 252.8 L766.4 253.5 L764.7 255.4 L763.0 257.6 L761.3 259.4 L763.0 260.3 L764.1 261.5 L764.7 263.0 L766.6 263.3 L767.5 264.7 L765.8 265.8 L764.1 264.7 L761.9 265.5 L759.7 267.1 L761.3 268.2 L761.9 270.0 L765.2 270.0 L767.5 269.3 L767.5 270.6 L766.9 272.6 L765.2 273.6 L763.6 273.6 L763.0 275.0 L761.9 277.0 L762.5 278.6 L763.6 279.5 L763.0 280.8 L764.7 281.3 L766.4 281.1 L766.4 282.6 L767.5 283.7 L769.7 283.5 L770.8 283.9 L771.6 283.5 L771.4 286.2 L770.3 287.7 L768.0 289.3 L766.4 290.3 L764.7 291.2 L763.2 292.0 L765.2 291.8 L767.5 290.9 L769.1 290.1 L770.8 288.7 L772.5 287.3 L774.2 285.6 L775.3 284.1 L776.0 282.4 L776.6 280.2 L778.4 278.4 L779.8 278.1 L778.2 280.4 L777.8 282.6 L779.7 282.0 L781.4 280.8 L782.0 279.0 L783.6 278.6 L784.7 279.9 L786.4 280.8 L788.6 281.1 L790.9 281.5 L793.1 283.0 L794.8 284.8 L795.9 286.6 L797.0 288.7 L798.7 290.7 L800.6 291.6 L802.0 290.9 L802.0 289.3 L800.0 287.9 L798.7 285.2 L797.0 283.0 L795.9 281.5 L793.7 283.0 L792.0 280.8 L789.8 280.2Z M774.7 286.2 L776.4 285.2 L777.3 286.0 L775.8 287.7Z M759.1 294.7 L760.8 293.7 L761.6 293.2 L760.2 294.3Z M755.5 272.8 L758.0 273.6 L758.8 273.1 L756.9 272.1Z M760.4 280.4 L762.1 280.2 L761.9 281.3 L760.6 281.1Z M810.0 302.1 L840.8 302.1 L840.9 301.5 L841.5 302.6 L843.3 302.8 L844.9 303.7 L847.2 303.8 L848.4 303.3 L850.5 304.5 L852.4 305.6 L852.7 306.3 L853.8 307.1 L853.8 307.4 L855.0 308.2 L855.3 310.9 L855.0 312.4 L854.3 313.0 L855.0 313.7 L856.6 313.0 L858.9 312.1 L858.9 311.3 L858.6 311.0 L861.3 310.9 L861.9 309.9 L863.3 308.7 L867.2 308.7 L868.0 308.0 L868.6 306.8 L868.9 306.0 L869.8 304.8 L870.8 305.0 L871.3 305.5 L871.3 307.6 L871.8 308.4 L872.2 308.8 L870.6 309.8 L868.9 310.6 L868.1 311.8 L868.1 312.8 L868.9 313.6 L867.2 314.2 L865.0 314.8 L864.4 315.5 L864.2 317.0 L863.3 317.8 L862.8 319.1 L862.2 320.5 L862.4 321.9 L862.2 323.3 L860.5 324.2 L858.9 325.3 L857.2 326.9 L856.3 328.6 L856.3 329.9 L857.2 331.8 L857.7 333.7 L857.5 335.6 L856.6 336.1 L855.7 335.0 L854.7 332.8 L854.7 331.2 L853.3 329.9 L851.6 330.2 L849.9 329.4 L848.3 329.5 L847.2 329.6 L847.4 331.1 L846.0 331.1 L844.4 330.4 L842.4 330.3 L841.0 330.9 L839.4 332.1 L838.3 333.3 L838.6 335.0 L836.6 334.3 L836.0 333.1 L834.9 331.6 L833.8 330.2 L832.4 330.3 L831.9 331.2 L830.4 330.3 L828.2 327.6 L826.3 327.6 L826.3 328.2 L823.2 328.2 L819.0 326.6 L816.4 326.6 L814.9 324.9 L812.6 324.0 L811.2 321.2 L810.4 319.4 L808.9 317.0 L808.4 315.7 L808.6 313.3 L808.1 311.8 L808.7 309.5 L808.7 306.8 L807.9 303.1 L809.8 303.5Z M773.0 343.4 L774.2 342.8 L773.1 342.0Z M889.3 360.2 L890.1 361.7 L891.2 363.0 L891.2 364.4 L890.6 365.0 L892.8 365.6 L894.0 365.8 L896.2 366.7 L897.5 367.8 L899.5 368.0 L901.2 368.2 L902.9 368.3 L904.5 369.5 L905.7 370.5 L907.6 370.9 L908.0 372.8 L908.1 374.0 L907.6 375.4 L906.2 376.9 L905.1 378.3 L904.0 379.6 L903.4 381.3 L903.4 383.1 L903.2 385.2 L902.5 387.2 L901.8 389.0 L900.6 390.8 L899.5 391.4 L897.3 391.6 L895.1 392.7 L893.4 394.2 L892.7 395.7 L892.7 397.6 L891.5 399.2 L890.4 401.4 L888.9 403.0 L887.4 405.0 L887.6 403.6 L886.9 403.0 L885.6 401.8 L884.5 401.1 L882.7 400.4 L884.7 398.1 L887.1 396.4 L886.9 395.7 L886.0 394.6 L886.4 392.6 L885.0 392.5 L884.5 390.5 L882.5 390.3 L882.0 388.0 L882.3 387.5 L882.8 385.4 L881.9 384.6 L881.8 383.4 L879.8 383.3 L879.5 380.5 L878.0 380.2 L876.7 379.2 L875.0 378.9 L874.1 378.3 L874.1 376.0 L872.8 376.1 L870.6 377.5 L869.4 377.3 L868.2 377.3 L868.2 375.6 L866.3 376.2 L865.5 375.1 L864.8 373.2 L864.6 372.3 L865.8 370.7 L867.8 369.9 L868.9 369.7 L869.4 366.3 L868.9 365.6 L868.9 364.4 L869.4 364.2 L869.1 363.1 L871.1 363.0 L872.3 363.7 L872.8 364.1 L874.5 363.9 L876.1 362.5 L875.6 362.2 L875.0 361.1 L875.6 360.5 L877.0 360.5 L878.9 360.0 L880.0 359.2 L880.4 360.0 L880.0 361.7 L880.3 362.8 L881.1 363.6 L882.3 363.3 L883.4 362.8 L884.5 362.9 L886.2 362.4 L888.2 362.4 L888.4 361.4Z M1103.0 313.4 L1103.3 312.5 L1103.3 311.3 L1104.5 311.3 L1104.8 308.4 L1106.3 309.5 L1108.8 309.8 L1109.1 311.3 L1106.8 313.3 L1104.6 312.4 L1104.0 313.3Z M1103.9 314.5 L1104.6 315.5 L1105.2 317.0 L1104.6 318.7 L1104.0 320.5 L1103.8 322.3 L1102.7 323.3 L1101.6 323.7 L1099.6 323.8 L1099.4 324.2 L1098.5 325.3 L1097.5 324.2 L1095.7 324.1 L1094.0 324.6 L1092.9 324.6 L1092.9 324.0 L1094.6 322.6 L1096.5 322.5 L1098.5 322.3 L1099.3 320.5 L1099.9 319.8 L1099.8 320.8 L1101.3 320.0 L1102.4 318.4 L1102.9 316.5 L1102.9 315.2Z M1094.2 325.6 L1095.1 324.6 L1096.8 324.2 L1097.0 324.9 L1096.5 325.6 L1095.1 326.2Z M1091.8 325.3 L1092.9 324.8 L1093.8 326.0 L1093.5 328.0 L1092.6 328.6 L1092.0 327.3 L1091.5 326.0Z M1089.2 334.8 L1089.9 334.0 L1089.6 334.7Z M954.8 294.5 L955.9 293.9 L956.5 293.2 L956.5 291.4 L957.8 291.6 L958.9 293.2 L960.3 292.8 L961.9 292.2 L962.7 293.4 L963.1 296.0 L963.4 298.8 L961.4 299.5 L960.5 299.9 L960.8 301.3 L962.3 302.5 L961.8 303.0 L961.2 303.7 L961.4 304.6 L960.3 304.5 L958.6 304.8 L957.6 304.6 L956.4 304.3 L955.4 304.5 L955.4 303.0 L956.0 302.1 L954.0 301.3 L953.7 300.1 L953.6 298.7 L953.6 297.2 L954.5 296.9 L954.7 296.0Z" fill="#009ef7" stroke="#009ef7" stroke-width="0.4" stroke-linejoin="round"/>
</svg>
<svg style="left:735px;top:415px" width="60" height="30" viewBox="0 0 1200 600" fill="none" stroke="#cfcfda" stroke-width="19" stroke-linecap="round" stroke-linejoin="round">
<path d="M145 405 H400 C450 405 470 362 490 322 C510 272 525 255 540 255 C572 255 585 345 610 345 C635 345 646 255 672 255 C712 255 730 400 800 405 H875"/>
<path d="M145 405 C200 405 240 395 270 340 C310 262 340 215 385 215 C430 215 460 280 490 330 C520 390 550 405 600 405 H875"/></svg>
</body></html>
